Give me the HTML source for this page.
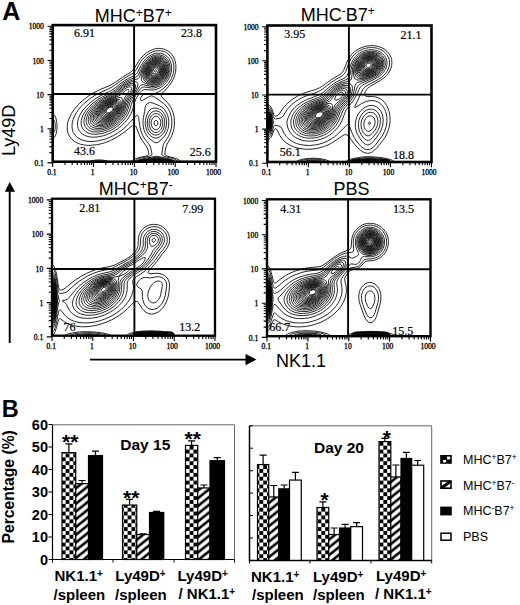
<!DOCTYPE html>
<html><head><meta charset="utf-8"><title>Figure</title>
<style>
html,body{margin:0;padding:0;background:#fff;}
body{width:520px;height:605px;overflow:hidden;}
svg{display:block;font-family:"Liberation Sans",sans-serif;}
.tk{font-family:"Liberation Serif",serif;font-size:7.6px;fill:#000;stroke:#000;stroke-width:0.3px;}
.qn{font-family:"Liberation Serif",serif;font-size:12px;fill:#000;stroke:#000;stroke-width:0.2px;}
.tt{font-size:18px;fill:#000;}
.yl{font-size:14.5px;font-weight:bold;fill:#000;}
.xl{font-size:15px;font-weight:bold;fill:#000;}
.lg{font-size:12.5px;fill:#000;}
.big{font-size:23px;font-weight:bold;fill:#000;}
.day{font-size:15.5px;font-weight:bold;fill:#000;}
.st{font-size:21px;font-weight:bold;fill:#000;}
</style></head><body>
<svg width="520" height="605" viewBox="0 0 520 605">
<defs>
<pattern id="chk" width="7.75" height="7.75" patternUnits="userSpaceOnUse" patternTransform="translate(3.6,4)">
<rect width="7.75" height="7.75" fill="#fff"/><rect width="3.875" height="3.875" fill="#000"/><rect x="3.875" y="3.875" width="3.875" height="3.875" fill="#000"/>
</pattern>
<pattern id="hat" width="9.6" height="7.75" patternUnits="userSpaceOnUse" patternTransform="translate(-0.86,0)">
<rect width="9.6" height="7.75" fill="#fff"/><path d="M-9.6 15.5 L19.2 -7.75 M-9.6 7.75 L9.6 -7.75 M0 15.5 L19.2 0" stroke="#000" stroke-width="2.5"/>
</pattern>
</defs>
<rect width="520" height="605" fill="#fff"/>
<text class="big" x="2.2" y="19.6" style="font-size:25px">A</text>
<text class="big" x="1.8" y="417" style="font-size:23.5px">B</text>
<text class="tt" x="133.2" y="22" text-anchor="middle">MHC<tspan dy="-5.5" font-size="12">+</tspan><tspan dy="5.5">B7</tspan><tspan dy="-5.5" font-size="12">+</tspan></text>
<text class="tt" x="337.8" y="20.5" text-anchor="middle">MHC<tspan dy="-5.5" font-size="12">-</tspan><tspan dy="5.5">B7</tspan><tspan dy="-5.5" font-size="12">+</tspan></text>
<text class="tt" x="135.7" y="194.7" text-anchor="middle">MHC<tspan dy="-5.5" font-size="12">+</tspan><tspan dy="5.5">B7</tspan><tspan dy="-5.5" font-size="12">-</tspan></text>
<text class="tt" x="351.5" y="195.2" text-anchor="middle">PBS</text>
<text class="tt" x="276" y="366.5">NK1.1</text>
<text class="tt" style="font-size:18px" transform="translate(15.3,156) rotate(-90)">Ly49D</text>
<!-- arrows -->
<path d="M9.7 343 V190" stroke="#000" stroke-width="1.9"/><path d="M9.7 182 L15 191.8 H4.8 Z" fill="#000"/>
<path d="M90 359.6 H248" stroke="#000" stroke-width="1.8"/><path d="M256.5 359.6 L245.5 354 V365.2 Z" fill="#000"/>
<path d="M180.2 161.7l-7.5 0-19 0-15.5 0-6.7 0 .3-.6 .4-.5 2-1.4 4-1.4 7.6-1.7 1.5-.5 .9-.5 .4-.5 .3-1-.7-3.1-1.3-3.4-4.6-6.5-1.5-2.5-1.4-3-3.2-8.2-1-1.2-1-.4-1.5 .4-1.5 .9-8.5 6.8-6 3.9-6 3.1-6.5 2.5-3.5 1-4 .8-6.5 .7-3.5-.1-3-.4-3-.6-2.5-.9-3.5-1.8-2.6-2-2.4-2.9-1.5-3.1-.9-3.5-.1-3.5 .5-4 1.3-4 2.4-5 3.1-4.5 3.8-4.5 4.4-4.1 4.5-3.6 5.5-3.6 6.5-3.4 9.1-3.8 3.9-1.9 3.3-2.1 7.7-5.3 8-5 1.5-1.3 1.5-1.7 4.2-7.2 2.6-3.5 2.7-2.9 3-2.5 4-2.4 2.5-.9 2.5-.7 2.5-.3 2.5 .1 2.5 .4 2 .6 2.5 1.3 2 1.4 1.8 1.9 1.5 2 1.5 3 .8 2.5 .5 3 .1 3-.2 3.5-.8 3.5-.9 3-1.7 3.5-2.9 4.5-2.2 2.5-4.9 5-.7 1-.4 1 .1 1 .9 1.5 5.5 5.3 1.7 2.2 1.6 2.5 1.3 3 1 3 .7 3 .4 3.5-.1 5.5-.4 3-.6 3-1.9 5-4.2 7.4-.9 2.1-1 4-.4 3 0 1 .5 1 1.8 1 7 1.8 4 1.5 1.1 .7 .9 1 .3 .6-.3 0 M53.7 137.7l-1 .1 0-5.7 0-15 0-2.7 .5 0 1 .5 .5 .6 1.2 2.6 .8 3.5 .3 4-.1 4-.7 4-1 2.5-.7 1-.8 .6 M109.2 161.7l-4 0-6.5 0-6.5 0-3.6 0 1.6-.5 2.5-.7 3.5-.5 3-.1 3.5 .2 2.5 .4 2.5 .7 .9 .4 .6 .1 M177.2 161.7l-7 0-15 0-14 0-6.7 0 .3-.6 .5-.5 1.9-1.2 3.5-1.2 9.2-2.1 1.7-1 .4-1-1.1-5.5-1.1-3-1.3-2-4.3-5.5-1.4-2.5-1.1-2.5-.9-2.5-.8-3.5-1.4-9.5-.5-1.5-.4-.4-.5-.2-1 .3-1 .8-6.3 7-3.7 3.6-3.5 3-3.5 2.5-4.5 2.7-5 2.4-4.5 1.6-5 1.3-5 .7-5 .1-4-.6-4-1.2-3.5-2-2.5-2.4-1.8-2.7-.6-1.5-.5-2-.3-3 .3-3.5 .8-3 1.4-3.5 1.9-3.5 2.1-3 2.5-3 3.2-3.2 5-4.2 5-3.4 5.5-3 9-4.1 3-1.5 3-2 9-6.5 9.4-5.6 1.6-1.4 1-1.2 4.8-8.4 1.8-2.5 2.2-2.5 2.7-2.3 3-1.9 2.5-1.1 3-.9 2-.2 2.5 0 2 .3 2 .6 1.5 .7 2 1.3 1.5 1.3 1.4 1.7 1.2 2 .9 2 .7 2.5 .4 2 0 4.5-.3 2.5-.6 2.5-1.5 4-2.4 4-2.8 3.4-3 2.7-2.5 1.8-2.5 1.5-5.5 2.5-1.5 .2-3-.8-2-.2-2.2 .4-1.3 .9-1 1.1-1 2-.2 1.5 .2 .7 .4 .3 1.1-.1 7.5-4.1 1.5-.5 1 .1 2.5 1.2 9 6.3 2.7 2.6 2.1 3 1.8 4 1.2 4.5 .4 4.5-.3 5-1 4-1.3 3.5-1.6 3-3.3 5-1 2-.6 2.5-1 7 .4 1 1.4 1 3.2 1 5.4 1.3 3 1.2 1 .6 1 .9 .3 .6-.3 0 M53.7 132.7l-.5 .2-.5 0 0-12.3 0-1.3 .5 0 .5 .2 .4 .6 .6 1.4 .4 2.1 .2 2-.1 2.5-.3 2-.5 1.5-.7 1.1 M106.2 161.7l-7.5 0-7.2 0 1.2-.2 2-.5 4.5-.3 4.5 .4 1.9 .5 .9 .1-.3 0 M95.7 137.1l-3 .1-3-.3-2.5-.6-2.5-.9-2.2-1.3-1.7-1.5-1.6-2-1-2-.5-2-.2-2.5 .2-2.5 .7-3 1-2.5 1.6-3 2-3 2.1-2.5 4.6-4.5 5.5-4.2 5-3 9-4.3 2.5-1.4 3-2 6-4.8 3.5-2.5 3.5-2.1 6.5-3.2 1.5-1 1-1 1-1.3 3.3-6.7 2.5-4 2.7-3.1 3.5-2.7 2-1.1 2.5-.9 2-.5 2.5-.1 2 .1 2 .6 2 .9 2 1.4 2.2 2.4 1.6 3 .9 3.5 .2 3.5-.5 4-1.1 3.5-2 4-2.3 3-2 2-2 1.6-2.5 1.5-2.5 1-2.5 .6-2 .2-7.5-.5-1.5 .4-1.5 .9-1.5 1.5-1.5 1.9-2.9 4.9-1.2 3-2.1 8-1.9 4.5-2.9 4.5-3.9 4.5-3.1 2.8-3 2.4-3.5 2.2-3.5 1.9-3.5 1.6-4 1.3-4 .9-3.5 .4 M157.2 142.7l-1.5 .1-2-.9-3-2.2-2.5-2.3-1.7-2.3-1.4-2.5-1-2.5-.7-3-.4-3.5 .1-3.5 .4-3 1.1-5.5 .6-4.5 .5-1.5 1.1-1.5 1.4-1 1.5-.5 1.5 0 2 .6 6.5 2.6 3 2 2 2 1.5 2.3 1.4 3 .8 3 .4 3.5-.1 3.5-.6 3.5-1.3 3.5-1.6 3-2.5 3.1-3.5 3.3-2 1.2 M173.7 161.7l-6.5 0-11.5 0-11.5 0-6.1 0 .3-.6 .5-.5 1.3-.7 2-.8 3-.8 8-1.5 3.5-.5 3.5 .5 10 2.4 2.9 1.4 .8 1 0 .1-.2 0 M101.2 161.7l-4.7 0 2.7 0 2.3 0-.3 0 M98.2 134.1l-3 .2-2.5-.2-2.5-.4-2.5-.9-2-1.1-1.5-1.2-1.2-1.4-1.1-2-.6-2-.2-2 .2-2.5 .6-2.5 .9-2.5 1.4-2.5 1.6-2.5 2-2.5 4.6-4.5 5.3-4 4-2.3 7.6-3.7 3.4-1.9 3-2.2 6.5-5.4 4-2.8 3.5-1.7 5.5-2.1 2-1.2 1-1.1 .7-1.1 3-7 2.3-4 3-3.5 3-2.4 2-1 2-.8 2-.4 2-.2 2 .2 2 .5 2 1 1.5 1.1 2 2.2 1.4 2.8 .8 3 .2 3.5-.5 3.5-1.2 3.5-1.5 3-2.2 2.9-2 1.9-2 1.5-2 1.1-2.5 .9-2 .5-2.5 .1-7.5-1-1.5 .2-1.5 .9-1 .9-1.5 2-5 7.6-1.6 3.5-2.2 7.5-1.4 3.5-2.7 4.5-3.1 3.8-2.5 2.4-3 2.5-3 2.1-3 1.7-3 1.4-3.5 1.3-3.5 .9-3 .4 M158.2 137.6l-2 .5-2-.3-2-.8-1.9-1.4-1.6-1.8-1.4-2.2-1-2.5-.7-2.5-.3-3 .1-3 .6-3 1-3 1.3-2.5 1.4-2 1.5-1.3 2-.6 2-.2 2.5 .4 2 .8 2 1.3 1.5 1.6 1.5 2.3 1.1 2.7 .6 2.5 .2 2.5-.2 3-.6 3-.9 2.5-1.2 2.2-1.5 1.9-2 1.8-2 1.1 M171.2 161.7l-6 0-9.5 0-9.5 0-5.7 0 .1-.1 .3-.5 .6-.5 3.2-1.3 7-1.4 5-.5 4.5 .5 6.5 1.5 2.8 1.2 1 1 0 .1-.3 0 M101.2 131.6l-3 .4-2.5 0-2.5-.2-2-.5-2-.9-2-1.3-1.4-1.5-.9-1.5-.7-2-.3-2 .1-2 .6-2.5 .9-2.5 1.4-2.5 1.7-2.5 1.6-2 3.5-3.5 4-3.1 5-3.1 7.7-3.8 3.3-1.9 2.7-2.1 5.8-5 3.5-2.5 2-1.2 2.5-1 2.5-.8 4-.9 1.5-.7 .9-.9 .6-1.1 2.8-7.9 2-4 2.7-3.4 3-2.6 1.5-.9 2-.8 2-.6 2-.2 2 .1 2 .6 1.5 .6 1.6 1.2 1.8 2 1.4 2.5 .8 3 .1 3-.4 3-.9 3-1.5 3-1.9 2.6-2 2-2 1.5-2.5 1.3-2.5 .8-2 .2-2.5-.1-7.5-1.7-1.5 .1-1 .6-1.5 1.8-7.8 12.4-1.4 3-2 6.5-1.1 3-1.9 3.5-2.6 3.5-2.2 2.4-2.4 2.1-2.6 2-2.5 1.6-3 1.6-2.5 1.1-3 1-3 .7 M156.2 135.1l-1.5-.1-1.5-.5-1.5-.9-1.5-1.5-1.3-2-.9-2-.5-2-.2-2.5 .1-2.5 .5-2.5 .7-2 1.1-2 1.2-1.5 1.3-1 1.5-.8 2-.4 2 .3 1.5 .6 1.5 1 1.2 1.3 1.3 2 .8 2 .5 2 .2 2.5-.2 2.5-.4 2-.7 2-1.1 2-1.6 1.9-1.5 1.1-1.5 .7-1.5 .3 M169.2 161.7l-13.5 0-13.3 0 .1-.1 .4-.5 .7-.5 2.6-1 6-1.2 4.5-.3 4.5 .4 5 1.2 2 .8 .9 .6 .4 .5 .1 .1-.4 0 M154.7 85.2l-3 .1-3-.6-3.5-1.4-2.7-1.7-.8-1-.3-1 0-2 .4-2.5 .9-4 1.3-3.5 2-3.5 2.2-2.6 2.5-2 3-1.6 3-.7 3 .2 2 .6 2 1.1 1.5 1.4 1.1 1.6 .9 2 .6 2.5 .1 2.5-.2 2.5-.7 2.5-1.1 2.5-1.2 2-1.7 2-1.8 1.6-2 1.4-2 .9-2.5 .7 M98.7 130.1l-4-.2-2-.5-1.5-.6-1.5-.9-1.4-1.3-.8-1-.7-1.5-.4-1.5-.2-2 .6-3.5 .7-2 1-2 2.8-4 3.3-3.5 4.1-3.3 4.5-2.9 8.5-4.2 2.7-1.6 2.6-2 5.7-5.1 3.5-2.4 3-1.5 3-.9 3 0 1 .2 1 .6 .5 .6 .2 1.5-.3 1.5-.8 2-1.8 3.5-5.5 8.5-1.3 3-1.6 5.5-1.2 3-1.5 3-2.2 3.1-2.2 2.4-2.3 2.2-3 2.2-3 1.9-3 1.4-3 1.1-3.5 .9-3 .3 M157.7 132.1l-1.5 .4-1.5-.2-1.5-.6-1-.7-1-1.1-1-1.7-.6-1.6-.4-2-.1-2 .3-2 .6-2 .7-1.5 1-1.4 1-1 1-.6 1.5-.5 1.5 0 1 .2 1.5 .8 1 .9 1 1.2 .7 1.4 .8 3 0 3.5-.4 2-.6 1.4-.9 1.6-.9 1-1.2 1-1 .5 M167.7 161.7l-11.5 0-12 0 .1-.1 .4-.5 1-.6 2-.7 4.5-.9 4.5-.2 4 .3 4 .9 1.9 .7 .7 .5 .5 .5 .1 .1-.2 0 M154.7 84.2l-2.5 .1-2.5-.5-2.9-1.2-2-1.5-1.1-1.5-.6-1.5-.2-2 .3-3 .9-3.5 1.3-3 1.6-2.5 2.2-2.4 2.5-1.8 2.5-1.2 2.5-.5 2.5 .1 2 .5 1.5 .8 1.5 1.3 1.3 1.7 .9 2 .5 2 .2 2-.2 2.5-.5 2-.9 2.5-1.2 2-1.6 2.1-2 1.8-2 1.3-2 .9-2 .5 M102.2 128.2l-2.5 .3-2 0-3.5-.6-1.5-.6-1.5-1-1-.9-.9-1.3-.7-1.5-.3-1.5 0-1.5 .2-2 .6-2 .9-2 2.2-3.5 3.5-3.9 4-3.3 5-3.1 7.5-3.7 3-1.7 2.5-1.9 5.5-5 3-2.2 2.5-1.2 2.5-.7 2 0 1.5 .7 .7 1 .2 1-.2 1.5-.5 1.5-1.5 3-4.1 6-1.2 2-1.1 2.5-2.5 8-1.5 3-1.6 2.5-1.7 2-2 2.1-2.5 2.1-2.5 1.7-2.5 1.4-3 1.4-2.5 .8-2.5 .6 M156.2 129.7l-1-.1-1-.4-1.5-1.2-.6-.9-.6-1.5-.4-2.5 .4-2.5 .6-1.5 .6-.9 1.5-1.4 1-.4 1-.1 1.5 .4 1 .7 .6 .7 1.1 2 .4 2.5-.3 2.5-.8 2.1-1.5 1.7-1 .5-1 .3 M166.2 161.7l-10 0-10.4 0 .1-.1 .5-.5 2.4-1 3.9-.7 3.5-.3 3.5 .2 3.8 .8 2.2 1 .5 .5 0 .1 M155.2 83.1l-2.5 .2-2.5-.4-2-.8-2-1.5-1.2-1.5-.7-1.5-.3-2 .1-2.5 .7-3 1-2.5 1.4-2.5 2-2.4 2-1.6 2.5-1.3 2.5-.7 2.5 0 2 .5 1.5 .8 1.4 1.2 1.2 1.5 .7 1.5 .6 2 .2 2-.2 2.5-.5 2-.7 2-1.2 2-1.5 2-1.5 1.4-2 1.3-2 .9-1.5 .4 M103.2 126.6l-4 .4-3.5-.5-1.5-.6-1.4-.8-1-1-.8-1-.4-1-.4-1.5-.1-1.5 .1-1.5 1.1-3.5 2-3.5 1.6-2 1.8-2 4-3.3 4.5-2.8 8.1-3.9 2.9-1.6 2.4-1.9 4.9-4.5 2.2-1.7 2-1.1 2-.7 1.5-.1 1.5 .4 .6 .7 .3 1-.1 1.5-.5 1.5-1.3 2.5-3.5 5-1.5 2.5-.8 2-1.5 5.5-.9 2.5-1.2 2.5-1.6 2.5-1.5 2-1.9 2-4.1 3.3-2.5 1.5-2.5 1.2-2.5 .9-2.5 .6 M156.2 125.6l-1-.2-.5-.4-.5-.9-.1-1 .1-1 .5-1 .5-.5 1-.2 .5 .1 .6 .6 .5 1 .1 1-.4 1.5-.4 .5-.9 .5 M164.7 161.7l-8.5 0-8.8 0 .1-.1 .6-.5 1.6-.6 3-.7 3.5-.2 3 .1 3 .6 1.9 .8 .5 .5 .1 .1 M155.7 82.2l-2 .3-2-.2-2-.6-2-1.1-1.4-1.5-.8-1.5-.5-2 0-2.5 .6-3 1-2.5 1.5-2.5 1.6-1.9 2-1.6 2-1 2.5-.7 2 0 1.5 .3 1.5 .6 1.5 1.1 1.1 1.2 .8 1.5 .7 2 .2 2 0 2-.5 2-.7 2-.8 1.5-1.3 1.9-1.5 1.5-1.5 1.1-1.5 .9-2 .7 M101.2 125.6l-3-.1-2.8-.9-2-1.5-1.3-2-.4-2.5 .4-3 1.3-3 2-3 1.7-2 2.1-2 4.5-3.4 3.5-1.9 7.2-3.2 2.8-1.5 2.5-1.9 4.5-4.2 2.5-1.8 1.5-.6 1-.2 1 0 .7 .2 .5 .5 .3 1-.5 2-1 2-3.3 4.5-1.2 2.1-.9 2.4-1.3 5.5-.8 2.5-1.5 3-1.6 2.5-1.9 2.2-2 1.9-2 1.6-2.5 1.6-2.5 1.3-2.5 .9-2.5 .7-2.5 .3 M162.7 161.7l-13.6 0 .1-.1 .7-.5 1.4-.5 2.4-.4 2.5-.2 2.5 .1 2.4 .5 1.3 .5 .6 .5 .1 .1-.4 0 M154.2 81.6l-2 0-2-.6-1.5-.9-1.5-1.4-.9-1.6-.4-1.5-.2-2 .4-2.5 .7-2.5 1.1-2 1.4-2 1.9-1.8 2-1.2 2-.7 2-.3 2 .3 1.5 .5 1.5 1.1 1 1.1 .8 1.5 .6 1.5 .2 2 0 1.5-.3 2-.7 2-.8 1.5-1 1.5-1.3 1.5-1.5 1.2-1.5 .9-1.5 .5-2 .4 M103.7 124.1l-3 .3-3-.5-2-1-.9-.8-.7-1-.5-1-.3-1.5 .1-2.5 1-3 1.8-3 1.6-2 2-2 4.4-3.3 4.5-2.5 9.5-3.9 2.7-1.8 4.8-4.3 1.5-.8 1-.1 .5 .2 .3 1-.3 1.1-1 1.7-2.3 3.2-1.1 2-.6 2-.8 5-.8 3-1.3 3-1.6 2.5-3 3.5-4 3.1-4 2.1-2.5 .9-2 .4 M161.2 161.7l-10.3 0 .1-.1 .9-.5 2.3-.5 2-.1 2 .1 2.2 .5 .8 .5 .2 .1-.2 0 M155.7 80.6l-2 .3-2-.3-1.5-.6-1.5-1-1.1-1.4-.7-1.5-.4-2 .1-2 .6-2.5 .8-2 1.3-2 1.4-1.5 1.5-1.2 2-1 2-.5 2 0 1.5 .4 1 .5 1 .8 1.3 1.5 .7 1.5 .4 1.5 0 3-.4 2-.6 1.5-.8 1.5-1.1 1.5-2.5 2.2-1.5 .8-1.5 .5 M102.7 123.1l-2.5-.1-2.5-.7-1.6-1.2-.7-1-.5-1-.2-2 .4-2.5 1-2.5 1.6-2.5 2.2-2.5 2.2-2 2.6-1.9 3-1.7 4-1.7 6-1.8 3-.6 1 .4 .5 1.3 .1 2-.2 3-.4 2.5-.5 2-.8 2-2.2 3.5-3 3.3-2 1.6-2 1.3-2 1-2.5 1-2 .6-2 .2 M158.7 161.7l-5.5 0 .3-.1 .2-.1 2.5-.4 2.7 .5 .2 .1-.4 0 M156.2 79.7l-2 .4-1.5-.1-1.5-.4-1.6-1-1-1-.9-1.6-.4-1.9 0-2 .4-2 .8-2 1.2-2 1.4-1.5 1.6-1.2 1.5-.8 2-.5 1.5 0 1.5 .3 1 .5 1 .7 .9 1 .6 1 .5 1.5 .3 1.5 0 1.5-.7 3-.6 1.5-1 1.5-1 1.1-1.5 1.3-2.5 1.2 M105.7 121.6l-3 .4-2.5-.3-2-.9-1.3-1.2-.8-2 0-2 .6-2.5 1.3-2.5 2-2.5 2-2 2.7-2.1 3-1.8 3.5-1.5 4-1.1 3-.3 1.5 .4 .8 .9 .4 1 .2 1.5 0 2-.3 2-.6 2-1.8 3.5-2.4 3-3.3 2.8-3.5 2-3.5 1.2 M155.7 79.1l-2 .2-1.5-.2-1.5-.7-1-.8-.8-1-.7-1.5-.2-1.5 0-2 .5-2 .7-1.5 1-1.6 1.3-1.4 1.7-1.3 1.5-.6 1.5-.4 1.5 0 2.2 .8 .8 .6 1 1.1 1 2.3 .2 1.5-.1 1.5-.8 3-1.6 2.5-2.2 1.9-2.5 1.1 M105.7 120.6l-2.5 .3-2-.2-2-.9-1.2-1.2-.4-1-.3-1 .1-2 .6-2 1.4-2.5 2-2.5 2.2-2 2.6-1.9 2.5-1.3 3-1.2 3-.7 2.5 0 1.5 .5 .6 .6 .5 1 .4 1.5 0 1.5-.2 1.5-.6 2-1.5 3-2.2 2.7-3 2.7-3.5 2-3.5 1.1 M156.2 78.2l-1.5 .4-1.5-.1-1.4-.4-1.1-.7-1-1.1-.7-1.2-.3-1.5 0-1.5 .3-2 .6-1.5 .9-1.5 1.2-1.4 1-.8 1.5-.8 1.5-.5 1.5-.1 2 .6 1 .7 .8 .8 1 2 .2 2.5-.5 2.5-1.3 2.5-2 2-2.2 1.1 M105.7 119.7l-2 .1-2-.3-1.5-.7-1.1-1.2-.5-1.5 0-2 .6-2 1.1-2 1.5-2 2.1-2 2.3-1.7 2.5-1.4 3-1.1 2.5-.5 2 0 1.5 .5 .8 .7 .5 1 .2 1 .1 1.5-.7 3-1.5 3-2.1 2.5-2.8 2.3-3.5 1.9-3 .9 M155.7 77.6l-1.5 .2-1-.1-1-.3-1.2-.8-.8-1-.5-1-.3-1.5 0-1.5 .3-1.5 .6-1.5 .9-1.4 1-1 1-.8 1.5-.8 1.5-.3 1 0 1 .2 1 .5 1.5 1.5 .8 2.1 0 2-.7 2.5-1.2 2-1.9 1.6-2 .9 M106.2 118.7l-2 .1-2-.4-1.3-.8-.8-1-.4-1.5 0-1.5 .7-2 1.1-2 1.7-2 1.6-1.5 2.2-1.5 2.2-1.2 2.5-.8 2.5-.4 1.5 .1 1.5 .6 .6 .7 .4 .8 .2 2.2-.5 2.5-1.6 3-2.1 2.4-2.5 1.9-2.5 1.4-3 .9 M156.2 76.7l-1.5 .3-1-.1-1-.2-.9-.6-1.2-1.5-.4-1-.1-1.5 .5-2.5 .6-1.2 1-1.3 2-1.5 1.5-.5 1-.1 1 .2 .9 .4 1.2 1 .8 1.5 .3 2-.4 2-1 2-1.4 1.5-1.9 1.1 M106.7 117.7l-2 .1-1.5-.3-1-.5-1-1.1-.4-1.3 .1-1.5 .4-1.5 1.1-2 1.2-1.5 1.6-1.5 2-1.5 2-1 2-.8 2-.3 1.5 0 1.5 .5 1 1.1 .4 2-.5 2.5-1.3 2.5-1.6 2-2.5 2-2.5 1.4-2.5 .7 M154.7 76.1l-1-.1-1-.4-1.1-1-.5-1-.2-1 .1-2 .9-2 1.3-1.5 2-1.1 1-.1 1 .1 1.5 .7 1 1.3 .4 1.6-.2 2-.9 2-1.3 1.4-1.5 .8-1.5 .3 M107.7 116.6l-1.5 .2-1.5 0-1-.4-1.1-.8-.6-1-.1-1.5 .3-1.5 .7-1.5 1.1-1.5 1.5-1.5 1.7-1.3 1.5-.9 2-.8 1.5-.3 1.5-.1 1.5 .4 1.1 1 .5 1.5-.3 2-.8 2-1.5 2-2 1.8-2 1.3-2.5 .9 M155.2 75.2l-1.5-.2-1.2-.9-.7-1.5 0-1.5 .7-2 1.2-1.3 1.5-.8 1.5-.2 1 .4 1 1 .5 1.4 0 1.5-.6 1.5-.9 1.3-1 .7-1.5 .6 M108.2 115.6l-1.5 .3-1.5-.2-1-.4-.7-.7-.5-1 0-1 .2-1 .6-1.5 1.1-1.5 1.3-1.3 1.5-1.1 1.5-.8 1.5-.6 1.5-.3 1.5 .1 1 .4 1 1.1 .2 1-.2 1.5-.8 2-1.2 1.6-1.5 1.4-2 1.3-2 .7 M156.2 73.7l-1.5 .3-1-.4-.7-1-.2-1 .3-1.5 .6-1 1-.8 1-.3 1 0 .9 .6 .3 .5 .3 1 0 1-.4 1-.6 .8-1 .8 M108.7 114.6l-1.5 .3-1-.1-1-.4-.5-.4-.5-.9-.1-1 .7-2 .9-1.3 1-1 2.5-1.7 2.5-.7 1-.1 1 .3 1 1 .3 1-.1 1-.6 1.5-1 1.5-1.6 1.5-1.5 .9-1.5 .6 M155.2 72.1l-.6-.5 0-1 .6-.6 .5-.2 .5 .2 .3 .6-.2 1-.6 .4-.5 .1 M108.7 113.7l-1 .1-1-.1-1-.7-.4-1.4 .3-1 .5-1 1.6-1.7 2-1.2 2-.5 1.4 .4 .6 .6 .2 .9-.1 1-.6 1.3-1 1.2-1 .9-1 .6-1.5 .6 M109.2 112.7l-1.5 .2-1-.5-.4-.8 .3-1.5 1.2-1.5 1.4-1 1.5-.5 1.5 .1 .5 .4 .3 .5 0 1-.4 1-1.4 1.6-2 1" fill="none" stroke="#000" stroke-width="0.85" stroke-linejoin="round"/>
<path d="M136.0 161.7 Q137.5 158.9 142.0 158.9 L169.0 158.9 Q173.5 158.9 175.0 161.7 Z" fill="#0a0a0a"/>
<rect x="52.7" y="25.1" width="163.3" height="136.6" fill="none" stroke="#000" stroke-width="2.6"/>
<path d="M134.1 25.1 V161.7 M52.7 94.0 H216.0" stroke="#000" stroke-width="1.9" fill="none"/>
<path d="M52.7 161.7 v5.2 M52.7 162.9 h-5.2 M65.0 161.7 v3.3 M52.7 152.6 h-3.3 M72.2 161.7 v3.3 M52.7 146.6 h-3.3 M77.3 161.7 v3.3 M52.7 142.3 h-3.3 M81.2 161.7 v3.3 M52.7 139.0 h-3.3 M84.5 161.7 v3.3 M52.7 136.3 h-3.3 M87.2 161.7 v3.3 M52.7 134.0 h-3.3 M89.6 161.7 v3.3 M52.7 132.1 h-3.3 M91.7 161.7 v3.3 M52.7 130.3 h-3.3 M93.5 161.7 v5.2 M52.7 128.7 h-5.2 M105.8 161.7 v3.3 M52.7 118.5 h-3.3 M113.0 161.7 v3.3 M52.7 112.5 h-3.3 M118.1 161.7 v3.3 M52.7 108.2 h-3.3 M122.1 161.7 v3.3 M52.7 104.9 h-3.3 M125.3 161.7 v3.3 M52.7 102.2 h-3.3 M128.0 161.7 v3.3 M52.7 99.9 h-3.3 M130.4 161.7 v3.3 M52.7 97.9 h-3.3 M132.5 161.7 v3.3 M52.7 96.2 h-3.3 M134.4 161.7 v5.2 M52.7 94.6 h-5.2 M146.6 161.7 v3.3 M52.7 84.3 h-3.3 M153.8 161.7 v3.3 M52.7 78.3 h-3.3 M158.9 161.7 v3.3 M52.7 74.0 h-3.3 M162.9 161.7 v3.3 M52.7 70.7 h-3.3 M166.1 161.7 v3.3 M52.7 68.0 h-3.3 M168.9 161.7 v3.3 M52.7 65.7 h-3.3 M171.2 161.7 v3.3 M52.7 63.8 h-3.3 M173.3 161.7 v3.3 M52.7 62.0 h-3.3 M175.2 161.7 v5.2 M52.7 60.5 h-5.2 M187.5 161.7 v3.3 M52.7 50.2 h-3.3 M194.7 161.7 v3.3 M52.7 44.2 h-3.3 M199.8 161.7 v3.3 M52.7 39.9 h-3.3 M203.7 161.7 v3.3 M52.7 36.6 h-3.3 M206.9 161.7 v3.3 M52.7 33.9 h-3.3 M209.7 161.7 v3.3 M52.7 31.6 h-3.3 M212.0 161.7 v3.3 M52.7 29.6 h-3.3 M214.1 161.7 v3.3 M52.7 27.9 h-3.3 M216.0 161.7 v5.2 M52.7 26.3 h-5.2" stroke="#000" stroke-width="1.1" fill="none"/>
<text class="tk" x="51.9" y="174.6" text-anchor="middle">0.1</text>
<text class="tk" x="43.9" y="166.0" text-anchor="end">0.1</text>
<text class="tk" x="92.7" y="174.6" text-anchor="middle">1</text>
<text class="tk" x="43.9" y="131.8" text-anchor="end">1</text>
<text class="tk" x="133.5" y="174.6" text-anchor="middle">10</text>
<text class="tk" x="43.9" y="97.7" text-anchor="end">10</text>
<text class="tk" x="173.2" y="174.6" text-anchor="middle">100</text>
<text class="tk" x="43.9" y="63.5" text-anchor="end">100</text>
<text class="tk" x="213.5" y="174.6" text-anchor="middle">1000</text>
<text class="tk" x="43.9" y="29.4" text-anchor="end">1000</text>
<path d="M369.4 153.1l-2 .2-2.5-.5-2-.9-2.5-1.7-3-2.7-2.7-3-6.3-8.5-1.3-1-1.2-.4-1.5 .2-1.5 .7-9 6.2-3.5 2-3.5 1.7-3.5 1.3-4 1.2-4 .8-4.5 .5-6 0-6-.8-5.5-1.6-4.5-2.2-3.7-2.6-3-3-2.4-3.5-2.6-5.5-.8-.9-1-.5-.5 .2-.5 .5-2.2 5.7-1.4 2.5-.9 1-1 .8-1.5 .4 0-4.7 0-13 0-12.5 0-5 1 .2 1 .6 1.5 1.8 1.3 2.4 1.7 5.2 .5 .9 .5 .5 .5 .1 1.5-.3 1.4-.9 1-1 3.6-5.5 3.4-4 3.6-3.3 4-2.9 4-2.4 4.5-2.1 4.5-1.7 8.7-2.6 3.8-1.6 3.1-1.9 8.9-6.4 7.7-4.6 1.8-1.3 1.5-1.4 1.2-1.8 3.6-9 2.5-4.5 1.5-2 1.7-1.8 2-1.8 2-1.4 3-1.7 3-1.2 3-.9 3.5-.5 3.5-.1 3 .3 3 .7 3 1.2 3 1.7 2.3 2 2.1 2.5 1.4 2.5 .9 3 .3 3-.2 3-.8 3-1.2 2.5-1.6 2.5-1.6 2-2.1 2-4.5 3.2-9.2 5.3-3.2 2.5-1.2 1.5-.9 1.5-.5 1.5-.2 1.5 .2 .9 .5 .6 1 .4 7 .2 2 .3 2.5 .7 2 1 1.5 .9 3 2.7 1.5 2 1.3 2.3 1.1 2.5 .8 2.5 .6 3 .3 3 .1 3-.3 3-.7 4-1.5 4.5-1.8 4-2.2 3.5-3.9 5-4.4 5-2.9 2.3-1.5 .8-1.5 .5 M393.9 162l-8 0-20 0-14 0-6.3 0 .8-1 1.5-.9 4.5-1.4 8.5-1.5 4.5-.5 3-.1 10 .7 4 .5 5 .9 3.5 1 1.8 .8 1.2 .9 .5 .6-.5 0 M329.9 162l-6 0-12.5 0-10.5 0-5.3 0 .8-.6 1.5-.8 4-1.3 4.5-.7 6.5-.4 6.5 .4 4.5 .7 2 .5 2.5 1 1.9 1.2-.4 0 M369.4 149.5l-2.5 .2-2.5-.8-2.5-1.7-2.7-2.7-2.7-3.5-2.3-3.5-1.9-4-2.9-7.4-.5-.8-.5-.5-.5-.1-1 .3-1 .8-6 6.2-3 2.8-2.5 2-3 2.1-4 2.2-4 1.7-4 1.3-4 .8-6 .6-5.5-.3-5-1-2.5-.8-2.5-1.1-4-2.4-2-1.7-1.5-1.6-2.2-3.1-2.3-5-1-1.4-.9-.6-1.1-.5-3-.7-1 .1-.5 .3-.5 .6-.5 1.2-1.6 5.5-1.4 2.8-1.5 1.5-1.5 .5 0-4.8 0-11 0-11 0-4.7 1.5 .5 1 1 .8 1.2 1.3 3 1.4 4.9 1 1.7 1 .4 1-.1 3.5-.7 1.5-.6 .9-.6 .8-1 3.1-5 2.7-3.5 3-3.1 4-3.1 4-2.5 4-1.9 4-1.6 8.4-2.8 3.2-1.5 3.4-2.2 9-6.9 3.5-2.2 5.8-3.2 2.1-1.5 1.3-1.5 1.2-2 2.8-8 2.2-4.5 1.4-2 1.7-2 3.5-3 2-1.3 3-1.4 3-1 3-.6 3-.1 3 .1 3 .6 2.5 .9 3 1.6 2.1 1.7 2.2 2.5 1.4 2.5 .7 2.5 .3 3-.3 3-1 3-1.3 2.5-1.5 2-1.6 1.7-2 1.8-4 2.7-10 5.3-2.2 1.5-1.8 1.7-1.3 1.8-1.1 2-2.9 6.5-3.2 6.5-.7 2 .2 .6 .5-.1 6.3-4 2.2-1.1 2.5-1 4-.8 3.5 .1 2 .5 1.5 .6 2 1.1 1.5 1.2 1.5 1.6 1.3 1.8 1.1 2 .8 2 .7 2.5 .5 2.5 .1 5-.7 5-1.7 5-1.4 3-1.6 2.5-6.1 8-3 3-1.5 .9-1.5 .6 M390.9 162l-7.5 0-15.5 0-13 0-6.3 0 1-1 1.3-.7 2-.7 3-.7 7.5-1.1 6-.2 9 .5 6.5 1 2.5 .6 2 .8 1 .5 .9 1-.4 0 M327.4 162l-5 0-9.5 0-9 0-5.4 0 2.4-1.3 3.5-.9 4-.6 4.5-.1 4.5 .1 4.5 .7 3.5 1 2 1.1 M311.9 141l-3.5 .1-3.5-.3-3-.6-3-1-3-1.5-2.5-1.7-2-1.9-1.6-2.1-1.3-2.5-.9-2.5-.6-3-.1-2 .8-3 1.4-3.5 1.6-3 1.8-2.5 1.8-2 2.1-2 4.5-3.3 5.5-2.9 10.5-4 3.5-1.6 3.2-2.2 6.3-5.5 3.5-2.6 4-2.5 6.5-3.1 1.9-1.3 1.1-1.2 1-1.8 2.7-9 2-4.5 1.3-2 1.7-2 1.8-1.7 2-1.5 2.5-1.4 3-1.2 3.5-.8 3-.2 3 .3 3 .7 2.5 1.1 2.5 1.7 1.9 2 1.4 2 .9 2.5 .4 2-.1 2.5-.5 2.5-1 2.5-1.7 2.5-2.8 2.9-3 2.2-4 2.3-9.6 4.6-2.3 1.5-1.5 1.5-1.3 2-2.6 6-2 3.5-2 3-4.7 6-2 3-1.1 2.5-2.5 7-2.1 4-2.4 3.5-3.2 3.5-2.2 2-2.5 1.8-2.5 1.6-3 1.5-3.5 1.3-3 .9-3 .6-3 .3 M369.4 144.6l-2 .3-1-.2-1.5-.7-2.5-2.2-2.5-3.3-2.3-4-1.4-3.5-.8-3.5-.1-4 .5-3.5 1.2-3.5 1.6-3 2.3-2.9 2.5-2.3 3-1.8 2.5-.8 3-.3 2.5 .5 2 .8 2 1.5 2 2.3 1.4 2.5 .9 3 .4 3 0 3-.4 3-.8 3-1.2 3-1.4 2.5-2.4 3.5-3.6 4.5-1.9 1.9-2 1.2 M267.9 135.7l-.5 0 0-.2 0-6 0-15 0-6.2 1 .3 .6 .4 .9 1.1 .8 1.4 1.4 4.5 1.1 4.5 .1 1.5-.2 2-1.9 7.5-.8 1.7-.8 1.3-.7 .7-1 .5 M387.4 162l-6.5 0-12 0-10.5 0-6.2 0 .7-.7 1.5-.8 4-1.1 5.5-.7 6-.2 6.5 .3 6 .8 2.5 .7 1.5 .6 1 .6 .4 .5-.4 0 M323.9 162l-11 0-10.9 0 1.9-.8 2.5-.6 3-.4 3.5-.2 3.5 .1 3 .4 2.5 .6 2 .9 M313.9 138l-3.5 .2-3-.1-3-.5-3-.9-2.5-1.1-2.4-1.6-1.7-1.5-1.6-2-1.2-2-.8-2.5-.4-2.5 .1-2.5 .5-2.5 .9-2.5 1.3-2.5 1.8-2.5 3.5-3.7 4.5-3.3 5.5-2.8 9.5-3.7 3-1.5 3-2.1 6.5-6 4-3 3.5-2 7.5-3.1 2.1-1.3 1.2-1.5 .6-1.5 1.8-8.5 1-3 .9-2 1.2-2 1.7-2.2 2-2 2-1.4 2.5-1.4 2.5-.9 3-.7 2.5-.2 3 .2 2.5 .6 2.5 1.1 2 1.3 1.7 1.6 1.4 2 .8 2 .5 2.5-.1 2.5-.5 2-1.2 2.5-1.3 2-2.8 2.8-3.5 2.4-5 2.5-9.5 4-2 1.2-1.1 1.1-1.2 2-2.1 6-1.8 3.5-2.3 3.5-5.1 6-1.9 2.5-1.6 3-2.7 7-1.5 3-2.2 3.5-3.1 3.5-3.9 3.2-2.5 1.6-2.5 1.3-5 1.9-5 1 M369.4 140.1l-1 .3-1 0-1.5-.5-2-1.6-2-2.5-1.6-2.8-1.2-3-.6-3-.1-3.5 .5-3 .8-2.5 1.3-2.5 1.9-2.5 2-1.8 2-1.2 2-.7 2.5-.2 2 .3 1.5 .6 2 1.5 1.2 1.5 1.1 2 .7 2 .4 2.5 0 2.5-.3 2.5-.6 2.5-1 2.4-1.1 2.1-1.9 2.7-2.5 3-2 1.9-1.5 1 M268.4 134.1l-1 .3 0-3.9 0-14 0-6.9 .5 .1 1 .6 .9 1.2 .8 1.5 1.1 4 .7 4.5-.2 3-1.1 5-1.2 3-.8 1-.7 .6 M384.9 162l-15.5 0-9 0-5.8 0 .5-.5 1.3-.7 3.5-.9 5-.7 5-.2 5.5 .3 5 .7 3.6 1 1.4 1-.5 0 M320.9 162l-8 0-8.1 0 1.6-.6 2-.4 4.5-.3 5 .4 3.3 .9-.3 0 M311.4 136l-2.5-.1-2.5-.3-2.5-.6-2.5-1-2-1.1-1.7-1.4-1.4-1.5-1.4-2-.8-2-.4-2-.2-2 .3-2.5 .7-2.5 .9-2 1.2-2 1.6-2 3.5-3.5 4.7-3.2 4.5-2.2 9.3-3.6 2.8-1.5 2.9-2.3 6.5-6.2 2-1.6 2.5-1.6 4-1.9 8-2.4 1.8-1 .6-1 .4-1 .8-9 .7-3 1-2.5 1.3-2.5 1.4-2 1.9-2 2.1-1.6 2-1.2 2.5-1 2.5-.6 3-.3 2.5 .2 2.5 .6 2.5 1.1 1.8 1.3 1.5 1.5 1.2 2 .8 2 .2 2-.2 2.5-.6 2-1 2-1.5 2-1.5 1.5-1.7 1.4-4.5 2.6-6.5 2.7-8.5 2.7-1.8 1.1-.9 1.5-1.4 6.5-.6 2-1.2 2.5-2.7 4-5.7 6.5-1.9 2.5-1.4 2.5-2.3 6-1.4 3-1.5 2.5-1.9 2.5-1.8 2-2.5 2.2-2.5 1.7-3 1.7-3 1.2-3 .9-3 .6-3 .2 M268.4 133l-1 .4 0-3.4 0-12 0-7.3 .5 .1 1 .6 1.3 2.1 1.1 3.5 .6 4.5-.2 3.5-.9 4-1.1 2.5-1.3 1.5 M369.4 135.6l-1.5 .3-1.5-.4-1.5-1.1-1.5-1.8-1.1-2.1-.9-2.5-.3-2-.1-2.5 .5-2.5 .6-2 1.1-2 1.1-1.5 1.6-1.5 1.5-.9 1.7-.6 1.8-.2 1.5 .3 1.5 .6 1 .8 1.3 1.5 .8 1.5 .5 1.5 .3 2 0 2-.3 2-.6 2-1.7 3.5-2.8 3.4-1.5 1.3-1.5 .9 M382.9 162l-13.5 0-12.8 0 1.6-1 3.2-.8 4-.5 4.5-.2 5 .2 4 .5 3 .9 1.5 .9-.5 0 M318.4 162l-10.9 0 2.4-.5 3-.2 3 .2 2.5 .5 M359.4 80l-2.5-.1-1-.4-.7-.5-.7-1-.4-1-.6-3 .1-4 .8-4 1.4-3.5 1.9-3 2.2-2.2 2.5-1.7 3-1.4 3-.7 3-.2 3 .4 2.5 .9 2.5 1.7 1.5 1.5 1 1.7 .6 1.5 .3 2-.1 2-.5 2-1 2-1.3 1.8-1.6 1.7-1.9 1.5-2 1.2-3 1.5-3.5 1.4-3 .9-3 .7-2.5 .3 M313.9 134l-2.5 .2-2.5-.2-2.5-.4-2-.6-2-.9-1.8-1.1-1.7-1.5-1.2-1.5-.9-1.5-.7-2-.3-2 .1-2 .3-2 .7-2 1-2 1.3-2 1.7-2 2-1.9 2-1.6 2.5-1.6 5-2.5 8.9-3.4 3.1-1.7 2.5-2.1 6.2-6.2 2.3-1.8 2.5-1.6 3.5-1.5 4-.9 3.5-.1 1 .3 1 .5 .6 .6 .6 1 .4 2.5-.3 3-1.2 3.5-1.5 2.5-1.4 2-6.1 6.5-1.9 2.5-1.3 2.5-3 7.5-1.3 2.5-1.4 2-1.7 2.1-2 2-2 1.6-2.5 1.7-2.5 1.3-3 1.1-3 .8-2.5 .4 M268.4 132.1l-1 .4 0-3 0-11 0-6.9 1 .3 .5 .5 1.2 2.1 1 3.5 .4 3.5-.2 3-.7 3.5-.9 2.5-1.3 1.6 M369.4 131.2l-1 .1-1-.2-1-.5-1-1-.9-1.6-.5-1.5-.2-3 .7-3 1.4-2.4 1-1 1-.7 1.1-.4 1.4-.2 1 .2 1 .4 1.5 1.4 1 2.2 .2 2.5-.5 2.5-1.2 2.7-2 2.3-2 1.2 M381.4 162l-11.5 0-11.5 0 1.5-.8 2.5-.7 3.5-.5 4-.1 4 .1 3.6 .5 2.4 .6 1 .4 .7 .5-.2 0 M313.9 162l-2.2 0 2.5 0-.3 0 M361.4 78.5l-2.5-.2-1-.3-1-.6-1.2-1.4-.9-2.5-.1-3.5 .5-3.5 1.1-3 1.7-3 1.9-2.1 2.5-1.9 2.5-1.2 3-.9 3-.3 2.5 .3 2.5 .8 2.3 1.3 1.6 1.5 1 1.5 .6 1.5 .4 2-.1 2-.4 1.5-.9 2-1 1.5-1.3 1.5-1.8 1.5-1.9 1.3-2.5 1.3-5.5 2-2.5 .6-2.5 .3 M312.9 132.5l-4-.2-2-.4-2-.6-2-1.1-1.5-1.1-1.1-1.1-1.1-1.5-.8-1.5-.4-1.5-.2-1.5 0-2 .5-2 .7-2 2.1-3.5 1.8-2 2-1.8 2-1.5 2.5-1.6 5-2.3 8-3 3-1.6 2.5-2.1 5.8-6.1 2.2-1.8 2-1.2 3-1.4 3-.7 3 0 2 .8 1.2 1.3 .6 2-.2 2.5-1 3-1.1 2-1.9 2.5-5.9 6-1.9 2.5-1.3 2.5-2.9 7.5-1.4 2.5-1.3 2-1.9 2.2-2 1.8-2 1.5-2.5 1.5-2.5 1.2-2.5 .9-3 .7-2.5 .2 M267.9 131.6l-.5 .1 0-4.7 0-9 0-5.7 1 .4 .5 .5 1 1.8 .9 3 .4 3.5-.2 3-.7 3.5-1.2 2.5-.7 .8-.5 .3 M369.4 124.6l-.5-.1-.5-1 .3-1 .7-.6 .5 .1 .4 .5 .1 .5-.3 1-.7 .6 M379.4 162l-10 0-9.3 0 1.3-.7 2.5-.6 3-.3 3-.1 3.5 .1 3 .4 2.5 .6 1 .6-.5 0 M364.9 77.1l-3 .2-2.4-.3-1.8-1-1.1-1.5-.8-2.5-.1-3 .7-3.5 1.3-3 1.3-2 2-2 2.4-1.7 2.5-1.1 2.5-.6 3-.2 2.5 .5 2.5 1 1.5 1 1.1 1.1 1 1.5 .6 1.5 .3 1.5-.1 2-.4 1.5-.6 1.5-1 1.5-1.3 1.5-3.3 2.5-4.3 2.1-5 1.5 M314.4 131l-4 0-2-.3-2-.6-3-1.6-1.1-1-1.3-1.5-.8-1.5-.5-1.5-.1-3 .2-1.5 .6-2 .7-1.5 1.3-2 1.7-2 1.8-1.7 2-1.5 2.5-1.6 4.5-2.1 8.9-3.1 2.8-1.5 2.3-2 5-5.7 2-1.7 2-1.3 3-1.4 2.5-.5 2.5 .1 1.5 .6 1.2 1.4 .4 1.5-.1 2-.8 2.5-1.1 2-1.6 2-6.2 6-1.6 2-1.3 2.5-2.6 7.5-1.3 2.5-1.4 2-3.1 3.4-2 1.6-2 1.3-2 1.1-2.5 1-2.5 .7-2.5 .4 M268.4 130.6l-1 .4 0-9 0-9 1 .4 1.1 1.6 1 3 .4 3-.1 3-.6 3-.8 2.2-1 1.4 M377.9 162l-8 0-8.1 0 1-.5 2.1-.5 5-.4 5.2 .4 2 .5 1.1 .5-.3 0 M365.9 76l-2.5 .3-2.5-.2-2-.9-1.2-1.2-.8-2-.3-3 .5-3 .9-2.5 1.2-2 1.7-2 2-1.6 2.5-1.3 2.5-.7 2.5-.3 2.5 .3 2.5 .8 1.3 .8 1.2 1 1.1 1.5 .7 1.5 .3 1.5 0 1.5-.3 1.5-.6 1.5-1.7 2.5-1.5 1.5-1.5 1.1-4 2.1-4.5 1.3 M315.9 129.5l-4 .3-3.5-.6-1.9-.7-1.6-.9-1.3-1.1-.9-1-.8-1.5-.6-1.5-.2-1.5 .1-1.5 .4-2 .5-1.5 1.8-3 1.8-2 1.6-1.5 2.1-1.6 2.5-1.5 5-2.1 8.5-2.7 2.5-1.3 2-1.8 3.1-4 1.9-2 1.7-1.5 1.8-1.2 2-.9 2-.5 2 0 1.5 .6 1 1 .4 1.5-.1 2-.8 2-1 1.6-1.6 1.9-5.6 5-1.8 2.1-1.1 2.4-2.3 7.5-1.3 2.5-1.3 2.1-3 3.3-3.5 2.6-4 2-4 1 M267.9 130.2l-.5 .1 0-3.8 0-7.5 0-5.3 1 .4 1.2 1.9 .7 2.5 .3 3-.1 2.5-.6 3.1-1 2.2-1 .9 M375.9 162l-12.3 0 2.3-.7 4-.3 4 .3 2.4 .7-.4 0 M366.9 75l-2.5 .4-2.5-.1-2-.8-1.1-1-.9-1.7-.4-2.3 .2-2.5 .7-2.5 1-2 1.5-2 2-1.8 2-1.1 2.5-.9 2.5-.4 2.5 .2 2 .6 1.5 .8 1 .8 1 1.1 .7 1.2 .5 1.5 .1 1.5-.2 1.5-.5 1.5-1.6 2.5-2.5 2.3-3.5 1.9-4 1.3 M314.4 128.5l-3.5-.1-3-.8-2.5-1.5-1.8-2.1-.9-2.5-.1-1.5 .1-1.5 1-3 1.6-2.5 1.8-2 1.6-1.5 2.2-1.5 2.5-1.4 5-2 9-2.4 2.4-1.2 1.5-1.5 2.6-3.9 1.3-1.6 1.5-1.5 1.7-1.2 1.7-.8 1.8-.4 1.5 0 1 .4 .8 1 .3 1-.1 1.5-.6 1.5-1 1.5-1.4 1.6-2 1.7-4 3-1.4 1.7-.8 2-1 5-.9 3-1.4 3-1.7 2.5-1.3 1.5-2 1.9-3.5 2.3-4 1.6-4 .7 M267.9 129.6l-.5 .1 0-3.2 0-7 0-5.2 1 .5 1 1.6 .7 2.6 .3 2.5-.1 2.5-.5 2.5-.9 2.1-1 1 M373.9 162l-8 0 2-.4 2-.1 2 .1 2.2 .4-.2 0 M365.4 74.5l-2 0-2-.4-1.5-1-1-1.5-.5-2.1 0-2 .6-2.5 .9-2 1.4-2 1.6-1.4 2-1.3 1.9-.8 2.1-.4 2-.1 2 .3 2 .8 2 1.7 .8 1.2 .5 1 .2 1 0 1.5-.3 1.5-.6 1.5-2 2.5-2.6 2-3.5 1.6-2 .6-2 .3 M336.9 100l-1.5 .1-.5-.5-.1-.6 .5-2 1.1-1.8 1.5-1.6 1.5-.9 1.5-.5 1 .1 .6 .2 .5 .5 .2 1-.2 1-.9 1.5-2.2 2.1-1.5 .9-1.5 .5 M317.4 127l-3.5 .4-3-.2-3-1.1-2-1.5-1.4-2.1-.5-2.5 .2-2.5 1.3-3 1.9-2.5 2.5-2.3 3-2 3-1.5 4-1.3 4-.8 5.5-.7 1.3 .1 .7 .2 .5 .5 .4 1.3 .2 2.5-.1 2.5-.9 4-1.6 3.5-2.5 3.3-3 2.5-3.5 2-3.5 1.2 M267.4 129.1l0-7.1 0-7.1 1 .5 .9 1.6 .6 2.5 .3 2.5-.2 2.5-.7 2.5-.9 1.6-1 .5 M366.9 73.6l-2.5 .2-1.7-.3-1.8-.9-.9-1.1-.7-1.5-.2-2 .3-2 .7-2 .9-1.5 1.4-1.7 1.6-1.3 1.9-1 2-.6 2-.3 2 .2 2 .6 1 .6 1.2 1 1.2 2 .3 1 .1 1.5-.8 2.5-1.5 2.2-2.5 2.1-3 1.4-3 .9 M316.9 126.1l-3 .3-3-.4-2.3-1-1.8-1.5-1.2-2-.3-2 .3-2.5 1.1-2.5 1.8-2.5 2.2-2 2.7-1.8 3-1.4 3.5-1.2 4-.7 3.5 0 2 .6 1 1 .5 1 .3 1.5 .1 1.5-.5 3.5-1.6 3.5-2.3 3.1-3 2.5-3.5 1.9-3.5 1.1 M267.4 128.5l0-6.5 0-6.5 .5 .1 .5 .5 .8 1.4 .5 2 .2 2.5-.2 2.5-.5 2-.8 1.5-.5 .4-.5 .1 M365.4 73l-1.5-.1-1.5-.5-1.2-.9-.9-1.5-.3-1.5 .1-2 .6-2 .8-1.5 1.1-1.5 1.3-1.1 1.5-1 2-.8 2-.3 1.5 0 2 .5 1.5 .7 1.5 1.5 .9 2 0 2-.4 1.5-.5 1-2 2.3-2.5 1.6-3 1.2-3 .4 M317.4 125l-3 .3-2.5-.3-2-.7-1.8-1.3-.7-1-.5-1-.4-2 .2-2 1.1-2.5 1.4-2 2.2-2.1 2.5-1.7 3-1.4 3-1 3.5-.5 2.5 .1 2.2 .6 .8 .6 .7 .9 .4 1 .3 1.5-.3 3-.6 2-.8 1.5-2.2 3-2.5 2.2-3 1.7-3.5 1.1 M267.9 127.8l-.5 .1 0-1.4 0-5.5 0-4.9 .5 .1 .5 .5 .5 .9 .6 1.9 .2 2-.1 2-.4 2-.6 1.5-.7 .8 M367.4 72.1l-2 .1-1.5-.2-1.1-.5-1.1-1-.6-1-.3-1.5 0-1.5 .6-2 .9-1.5 1.1-1.3 1.4-1.2 1.6-.9 1.5-.4 2-.3 1.5 .2 1.5 .4 1 .6 1 .8 .9 1.6 .3 2-.5 2-1.3 2-1.9 1.6-2.5 1.3-2.5 .7 M317.9 124l-2.5 .4-2.5-.2-2-.7-1-.6-1-.9-.9-1.5-.3-2 .3-2 .8-2 1.4-2 1.7-1.6 2.5-1.8 2.5-1.2 2.5-.8 3-.5 2.5 .1 2 .5 1 .7 .6 .6 .5 1 .3 1.5-.1 2.5-1.2 3-1.7 2.5-2.4 2.2-3 1.8-3 1 M267.9 127.2l-.5 .1 0-5.3 0-5.3 .5 .1 .5 .6 .5 1 .6 3.1-.1 1.7-.3 1.8-.6 1.5-.6 .7 M368.9 71l-2 .4-1.5 0-1.5-.4-.9-.5-.8-1-.4-1-.2-1 .1-1.5 .5-1.5 .9-1.5 .9-1 1.4-1.1 1.5-.8 1.5-.4 1.5-.1 1.5 .2 2 .9 1.3 1.3 .6 1.5-.1 2-.8 1.7-1.5 1.7-2 1.3-2 .8 M318.4 123l-2.5 .4-2-.1-2-.6-1.5-1-1-1.2-.6-2 .1-1.5 .6-2 1.3-2 1.6-1.6 2-1.5 2.5-1.3 2.5-.8 2.5-.5 2.5 .1 1.8 .6 1.3 1 .6 1 .3 1-.1 2.5-.8 2.5-1.6 2.4-2 1.9-2.5 1.6-3 1.1 M267.9 126.5l-.5 .2 0-9.4 .5 .2 .7 1 .4 1.5 .2 1.5-.3 3.1-.5 1.3-.5 .6 M367.9 70.5l-2.5 0-1-.3-1-.7-.6-1-.3-1 0-1 .3-1.5 .6-1.1 1-1.3 1-.9 1.2-.7 1.3-.5 1.5-.2 1.5 .1 1 .3 1.5 1 .8 1.3 .3 1.5-.3 1.5-.9 1.5-1.4 1.3-2 1.2-2 .5 M315.9 122.5l-2-.2-1.5-.6-1.1-.7-.9-1.2-.4-1.3-.1-1.5 .6-2 .9-1.5 1.3-1.5 1.7-1.4 2-1.1 2-.8 2.5-.6 2 0 1.5 .2 1.5 .7 .6 .5 .7 1 .4 2-.5 2.5-1.4 2.5-2 2-2.3 1.6-2.5 1-3 .4 M267.4 126.1l0-8.1 .5 .2 .5 .8 .5 1.5 .1 1.5-.1 1.5-.5 1.5-.5 .8-.5 .3 M368.9 69.5l-2 .3-1-.1-1-.4-.5-.3-.7-1-.3-1 .1-1 .8-2 1.6-1.7 2-1 1.5-.2 1 .1 1.5 .5 1 .8 .5 1 .1 1.5-.5 1.5-1.1 1.4-1.5 1-1.5 .6 M317.4 121.5l-2 .1-1.5-.4-1.3-.7-1-1-.5-1-.1-1.5 .3-1.5 .7-1.5 1.2-1.5 1.2-1 1.5-1 2-1 2-.6 2-.2 1.5 .2 1.6 .6 .6 .5 .7 1 .4 1.5-.3 2-.9 2-1.6 1.9-2 1.5-2 1-2.5 .6 M267.9 125.1l-.5 .2 0-6.6 .5 .2 .3 .6 .5 2-.2 2-.6 1.6 M368.9 68.6l-1.5 .2-1.6-.3-1-1-.3-1.5 .5-1.5 1.4-1.5 1.5-.8 2-.2 1 .3 1 .7 .5 1 .1 1-.3 1-.8 1.1-1.1 .9-1.4 .6 M318.4 120.5l-1.5 .2-1.5-.1-1.5-.6-1-.8-.7-1.2-.1-1 .1-1 .5-1.5 1.1-1.5 1-1 1.5-1 1.6-.8 2-.6 1.5-.1 1.5 .1 1.1 .4 1.2 1 .5 1 .1 1.5-.6 2-1.3 1.9-1.5 1.3-2 1.2-2 .6 M267.9 124.1l-.5 .4 0-5 .5 .4 .4 1.6 0 1.5-.4 1.1 M368.4 67.6l-1 0-1-.5-.4-.6-.1-1 .5-1 1-.9 1.5-.5 1 .2 1 .7 .2 .5 0 1-.7 1-.5 .5-1.5 .6 M318.9 119.5l-1.5 .3-1.5-.2-1-.3-1-.8-.6-1-.1-1 .2-1 .4-1 1.6-2 2.5-1.5 1.5-.5 1.5-.2 1.5 .1 1 .4 1 .9 .4 1.3 0 1-.5 1.5-.9 1.3-1.3 1.2-1.7 1-1.5 .5 M267.4 123.2l0-2.4 .5 1.2-.5 1.2 M318.9 118.6l-2 .1-1-.3-.6-.4-.5-.5-.4-1 .1-1 .4-1 1.5-1.8 2-1.1 2-.5 1 .1 1 .3 .8 .5 .5 1 .1 1-.4 1.2-.9 1.3-1.1 1-1 .6-1.5 .5 M319.9 117.5l-2 .4-1.5-.3-.6-.6-.3-.5 .1-1.5 1-1.5 1.3-1 2-.6 1.5 .1 1 .5 .3 .5 .2 .5-.1 1-.9 1.6-1 .9-1 .5" fill="none" stroke="#000" stroke-width="0.85" stroke-linejoin="round"/>
<path d="M348.5 162.0 Q350.0 159.0 354.5 159.0 L385.5 159.0 Q390.0 159.0 391.5 162.0 Z" fill="#0a0a0a"/>
<rect x="267.4" y="25.5" width="164.1" height="136.5" fill="none" stroke="#000" stroke-width="2.6"/>
<path d="M348.9 25.5 V162.0 M267.4 94.6 H431.5" stroke="#000" stroke-width="1.9" fill="none"/>
<path d="M267.4 162.0 v5.2 M267.4 163.2 h-5.2 M279.7 162.0 v3.3 M267.4 152.9 h-3.3 M287.0 162.0 v3.3 M267.4 146.9 h-3.3 M292.1 162.0 v3.3 M267.4 142.7 h-3.3 M296.1 162.0 v3.3 M267.4 139.3 h-3.3 M299.3 162.0 v3.3 M267.4 136.6 h-3.3 M302.1 162.0 v3.3 M267.4 134.4 h-3.3 M304.4 162.0 v3.3 M267.4 132.4 h-3.3 M306.5 162.0 v3.3 M267.4 130.6 h-3.3 M308.4 162.0 v5.2 M267.4 129.1 h-5.2 M320.8 162.0 v3.3 M267.4 118.8 h-3.3 M328.0 162.0 v3.3 M267.4 112.8 h-3.3 M333.1 162.0 v3.3 M267.4 108.5 h-3.3 M337.1 162.0 v3.3 M267.4 105.2 h-3.3 M340.3 162.0 v3.3 M267.4 102.5 h-3.3 M343.1 162.0 v3.3 M267.4 100.2 h-3.3 M345.5 162.0 v3.3 M267.4 98.3 h-3.3 M347.6 162.0 v3.3 M267.4 96.5 h-3.3 M349.4 162.0 v5.2 M267.4 95.0 h-5.2 M361.8 162.0 v3.3 M267.4 84.7 h-3.3 M369.0 162.0 v3.3 M267.4 78.7 h-3.3 M374.1 162.0 v3.3 M267.4 74.4 h-3.3 M378.1 162.0 v3.3 M267.4 71.1 h-3.3 M381.4 162.0 v3.3 M267.4 68.4 h-3.3 M384.1 162.0 v3.3 M267.4 66.1 h-3.3 M386.5 162.0 v3.3 M267.4 64.1 h-3.3 M388.6 162.0 v3.3 M267.4 62.4 h-3.3 M390.5 162.0 v5.2 M267.4 60.8 h-5.2 M402.8 162.0 v3.3 M267.4 50.6 h-3.3 M410.0 162.0 v3.3 M267.4 44.5 h-3.3 M415.2 162.0 v3.3 M267.4 40.3 h-3.3 M419.2 162.0 v3.3 M267.4 37.0 h-3.3 M422.4 162.0 v3.3 M267.4 34.3 h-3.3 M425.1 162.0 v3.3 M267.4 32.0 h-3.3 M427.5 162.0 v3.3 M267.4 30.0 h-3.3 M429.6 162.0 v3.3 M267.4 28.3 h-3.3 M431.5 162.0 v5.2 M267.4 26.7 h-5.2" stroke="#000" stroke-width="1.1" fill="none"/>
<text class="tk" x="266.6" y="174.9" text-anchor="middle">0.1</text>
<text class="tk" x="258.6" y="166.3" text-anchor="end">0.1</text>
<text class="tk" x="307.6" y="174.9" text-anchor="middle">1</text>
<text class="tk" x="258.6" y="132.2" text-anchor="end">1</text>
<text class="tk" x="348.6" y="174.9" text-anchor="middle">10</text>
<text class="tk" x="258.6" y="98.0" text-anchor="end">10</text>
<text class="tk" x="388.5" y="174.9" text-anchor="middle">100</text>
<text class="tk" x="258.6" y="63.9" text-anchor="end">100</text>
<text class="tk" x="429.0" y="174.9" text-anchor="middle">1000</text>
<text class="tk" x="258.6" y="29.8" text-anchor="end">1000</text>
<path d="M53 335.4l-1 .3 0-9.5 0-48 0-8.5 0-5 1 .4 1 1.3 .8 1.8 .9 2.5 1.1 5 1.7 11.5 .5 1.7 .5 .8 .5 .4 1.5-.1 2-.9 2-1.2 6.5-5.4 5-3.7 4.5-2.7 5-2.7 5.5-2.4 5.5-1.9 4.5-1.1 8-1.5 4-1.2 3.4-1.6 7.6-4 2.6-1.5 2.9-2 3.9-3.5 1.6-2 .9-1.5 .6-1.5 .5-2 .4-7.5 .3-2 .7-2 1.2-2.5 1.5-2 1.9-1.8 2-1.4 2.5-1.2 2.5-.7 2.5-.3 2.5 .2 2.5 .5 2.5 .9 2.5 1.6 2 1.8 1.2 1.4 1.2 2 .9 2 .5 2 .3 2 0 2-.4 2.5-.7 2-1.3 2.5-1.3 2-4.4 5.3-4.8 6.7-7.3 8.5-1.2 2 0 .5 .3 .5 1.5 .5 2 0 4-.4 2 0 2 .3 2.5 .8 2 1.1 2 1.7 1.5 2 .9 2 .6 2.5 0 3-.7 6.5-.9 4.5-1.2 3.5-1.4 3-2 3-2.3 2.6-3 2.4-3 1.3-2 .5-1.5 .1-3-.5-2.5-1.3-2-1.6-2.1-2.5-3.9-6-1-.8-1-.1-1 .3-1.5 1.1-6 6-4 3.5-3.5 2.7-4 2.5-4.5 2.5-5.5 2.4-5 1.7-5 1.4-5.5 .9-5 .5-5-.1-5-.6-4.5-1.1-3.5-1.4-3.3-1.9-3.7-2.9-.5-.3-.5 .1-.5 .5-.5 1-2.2 8.1-1.2 3.5-1.1 2.4-1 1.3 M175 335.7l-7.5 0-20 0-14.5 0-6.5 0 .9-1 1.6-.9 2.5-.9 2.5-.6 4.5-.8 4.5-.4 8-.3 8 .3 4.5 .4 4.5 .8 3 .8 2.5 1 1.6 1.1 .3 .5-.4 0 M111 335.7l-7.5 0-16 0-15.5 0-7.5 0 1.5-.9 1.5-.7 5-1.2 7-1 7-.2 8 .3 8 .9 5.5 1.3 2 .8 1 .7 M52.5 331.9l-.5 .1 0-1.3 0-12 0-38 0-7.5 0-5 1 .4 .8 1.1 .7 1.5 .8 2.5 1.4 6.5 1.3 9.8 .5 1.9 .4 .8 .6 .7 1 .2 4.3-.9 1.7-.7 1.5-1.1 6-5.5 4.5-3.6 4-2.8 5-2.9 4.5-2.2 5-1.9 4-1.1 8.5-1.8 4-1.4 13.9-7.5 5.1-3.5 4-3.6 1.5-1.9 1-1.6 .8-1.9 .4-1.5 .4-7.5 .9-3.5 .9-2 1.5-2 1.5-1.5 1.6-1.1 2-1 2.5-.7 2.5-.3 2 .2 2.5 .6 2 .9 2 1.3 1.5 1.5 1.3 1.6 .8 1.5 .7 2 .4 2 0 2-.2 2-.6 2-.7 1.5-1.6 2.5-4.1 5.2-4.3 6.3-5.8 6.5-4.9 4.7-3 2.2-5.7 3.6-1.7 1.5-.9 1-.8 1.5-.2 1.5 .8 4 0 2-.7 3.5-1.1 3.5-1.6 3.5-2.3 3.5-2.8 3.5-3.1 3-3.9 3.2-4 2.7-4.5 2.4-4.5 2-4.5 1.6-5 1.3-4.5 .7-5 .3-4-.1-4-.5-3.5-.9-3.5-1.4-2.5-1.5-2.2-1.8-1.4-1.5-3.9-4.9-1-.5-.5 .1-.5 .6-.5 1.4-1.7 9.3-1.5 6-1.3 3.1-.6 .9-.9 .7 M154.5 309.2l-2.5 .3-2.5-.5-2-1.1-2-2-1.6-2.7-1.1-3.5-.5-3 0-5-.3-1.5-1-1.3-3.4-2.2-.7-1-.2-1 .2-1 1.5-2.5 2-2 2.1-1.2 1.5-.4 1.5-.1 5 .4 6-1.1 3 0 2 .6 2 1.1 1.5 1.4 1.1 1.8 .6 2.5-.1 2.5-1.3 8.5-1.4 4.5-1.8 3.5-2.1 2.6-2.5 2.1-1.5 .8-1.5 .5 M172 335.7l-7 0-15.5 0-13.5 0-6.4 0 1-1 1.4-.7 2-.7 3-.7 6-.8 8-.4 8.5 .4 6.5 1 2.5 .7 1.9 .7 1.6 1 .3 .5-.3 0 M107 335.7l-7 0-12 0-12 0-7.3 0 2.8-1.3 4.5-.9 5.5-.6 6-.2 6.5 .2 5.5 .6 4.5 .9 2 .7 1 .6 M91.5 318.2l-5 .2-4.5-.4-4-1.1-3.5-1.6-2.1-1.6-1.9-2-1.3-2-2.7-5.1-1-1.3-1-.9-2-1.1-.2-.6 .7-.4 2.5-.2 2-1.1 2-1.9 5.6-6.9 3.4-3.5 5-4.2 5.5-3.6 4.5-2.4 4-1.6 4.5-1.3 7.5-1.7 3.5-1.2 16.5-9.5 3-2 2.7-2 4.3-4 1.5-2 .9-1.5 .6-1.5 .6-2 .2-6.5 .6-3 .7-1.5 .9-1.5 1-1.2 1.5-1.2 1.5-.9 1.5-.6 1.5-.3 2-.1 3 .6 1.5 .7 1.5 .9 1.2 1.1 1.1 1.5 .8 1.5 .6 2 .2 1.5-.1 2-.6 2-.6 1.5-1.3 2-4 5-4.5 7-6.1 7-2.2 2.1-2 1.6-7.1 4.3-3 2-2.9 2.5-1.7 2-.8 1.5-.3 1.5 0 6.5-.7 4-.8 2.5-1 2-2.6 4-2.7 3-3.4 3-3.5 2.5-4 2.3-4 1.9-4.5 1.6-4 1-4.5 .7 M52.5 328l-.5 .1 0-12.9 0-30.5 0-12.6 1 .5 .5 .7 .9 1.9 .7 2.5 1.1 5.5 1.3 10.3 1.8 7.2-1.3 4.9-1.7 11.6-1 5-1.3 3.9-.7 1.1-.8 .8 M154.5 302.7l-1.5 .2-1.5-.3-1.4-.9-1.1-1.4-.7-1.6-.5-2 0-2 .4-2.5 .8-2.5 1-2 1.6-2.5 1.4-1.7 1.5-1.2 1.5-.8 2-.5 1.5 .2 1.1 .5 .9 .8 .6 1.2 .2 1-.1 2-1.5 8-.8 2.5-1.4 2.5-2 2.1-2 .9 M168.5 335.7l-6.5 0-11.5 0-11 0-6.3 0 .4-.5 1.4-.8 4-1.1 5.5-.8 6.5-.3 6.5 .3 5.5 .8 4 1.1 1.4 .8 .4 .5-.3 0 M101.5 335.7l-14 0-13.6 0 2.1-.8 3.5-.6 4-.4 4.5-.2 5 .2 4 .5 3 .6 2 .7-.5 0 M91.5 315.2l-3 .1-3-.2-2.5-.5-2.5-.8-2-.9-2-1.4-1.5-1.4-1.3-1.9-.8-2-.3-2 0-2 .4-2 .7-2 1.2-2.5 1.6-2.5 1.9-2.5 2.7-3 3.4-3.1 3.5-2.7 4-2.5 4-2 3.5-1.3 4-1.1 6.3-1.3 3.2-1.1 2.5-1.4 7.5-4.8 6.9-3.7 3.1-2 4.6-3.5 2.9-2.5 1.8-2 1.7-2.5 .9-2 .4-2 .1-5.5 .3-2.5 1-2.5 1.3-1.7 1-.9 1.5-.9 1.5-.5 1.5-.2 1.5 0 1.5 .4 1.5 .6 1.5 1 1 1.1 .8 1.1 .6 1.5 .3 1.5 .1 1.5-.3 1.5-1 2.5-1.4 2-3.8 4.5-4.6 7.5-3.1 4-2.7 3-1.9 1.7-2 1.5-6.5 3.9-3.5 2.4-3.8 3-2.3 2.5-.9 1.5-.4 1.5-.2 7-.7 3.5-1.7 4-2.8 4-2.7 2.9-3 2.5-3 2-3.5 1.9-3.5 1.6-4 1.3-4 .9-3.5 .4 M52.5 325.4l-.5 .1 0-12.3 0-26.5 0-12 .5 .1 .5 .5 .6 .9 .8 2 .8 3 1 7 1.1 9 .2 3-.1 3-.7 6-1.3 9-.7 3-.7 2.1-.8 1.4-.7 .7 M166 335.7l-15.5 0-9 0-5.9 0 .6-.5 1.3-.7 3.5-.9 4.5-.6 5.5-.2 5.5 .2 4.5 .6 3.9 1.1 1.5 1-.4 0 M97.5 335.7l-10 0-9.4 0 1.8-.5 2.6-.4 5.5-.3 6 .4 3.8 .8-.3 0 M92.5 312.7l-3 .1-2.5-.2-2.5-.6-2-.7-2-1.1-1.3-1-1.4-1.5-.8-1.4-.6-1.6-.3-2 .2-2 .4-2 1.8-4 3.1-4.5 2.7-3 3.2-2.8 3-2.3 3.5-2.1 3.5-1.7 3.5-1.3 3-.7 7-1.4 3-1.1 2.5-1.5 6.5-4.4 8.5-4.6 3.5-2.3 7.5-5.8 2.4-2.5 1.7-2.5 .6-1.5 .4-2-.4-5 .2-2.5 .6-2 1-1.5 1-1 1-.6 1-.4 1.5-.3 2.5 .3 2 1 1.5 1.8 .8 2.2-.1 2.5-1.1 2.5-1.1 1.5-4.3 4.5-1 1.5-1.7 3.5-1.5 2.5-3.2 4.5-2.5 3-3.3 2.7-6 3.5-3.5 2.4-5.1 3.9-2.6 2.5-.9 1.5-.6 2-.3 6.5-.6 3.5-.8 2-1 2-2.4 3.5-2.2 2.3-2.5 2.2-3 2.1-3 1.6-3.5 1.6-3 1-3.5 .8-3.5 .4 M52.5 323.4l-.5 .1 0-11.3 0-23.5 0-12 .5 .1 .4 .4 .6 .9 .8 2.1 .6 2.5 1.3 9 .7 8.5-.6 8-1 8-1.3 4.8-.8 1.7-.7 .7 M164 335.7l-13.5 0-12.8 0 1.6-1 3.2-.8 4-.5 4.5-.2 5 .2 4 .6 2.7 .7 1.6 1-.3 0 M93 335.7l-10.3 0 5.3-.4 5.2 .4-.2 0 M152.5 246.3l-1-.1-.5-.4-1-1.4-.7-2.7 .1-2.5 .6-1.6 .7-.9 .8-.6 1.5-.7 2 .1 1.5 .6 1.1 1.1 .7 1.5 0 2-.8 2-1.3 1.5-1.7 1.3-2 .8 M96.5 310.2l-3 .4-2.5 0-2.5-.2-2.5-.6-2-.8-1.5-.9-1.5-1.4-1-1.5-.6-1.5-.3-2 .1-2 .6-2.5 .8-2 1.4-2.5 1.8-2.5 1.8-2 2.5-2.5 2.4-2 2.5-1.7 3-1.8 3-1.3 3-1.1 3.5-.8 6.5-1 3-1 2-1.1 4.1-3.2 3-2 8.4-4.2 6.5-4.4 2.5-1.5 2-1 1.5-.2 .3 .3 .1 .5-.9 2.5-1.3 2-1.7 1.9-2.1 1.6-6.9 4.2-9.2 6.8-2 2-.9 1.5-.4 1.5-.3 7-.8 4-.8 2-1.1 2-2.7 3.5-3.8 3.4-4.5 2.9-4.5 1.9-5 1.3 M52.5 321.7l-.5 .2 0-10.7 0-21 0-11.9 .5 .2 .5 .5 .5 .9 1.3 4.3 1 7 .6 8.5-.2 6-1.1 9-1.1 4.5-.7 1.5-.8 1 M162.5 335.7l-11.5 0-11.6 0 1.6-.9 2.5-.6 3.5-.4 4-.2 4 .2 3.5 .4 2.5 .6 .9 .4 .6 .5 M154.5 241.8l-1 .3-.5-.1-.5-.4-.4-.9 0-.5 .3-1 .4-.5 .7-.4 1 .1 .5 .3 .5 .9-.1 1.1-.9 1.1 M94 308.7l-2.5 0-2-.3-2-.5-1.5-.7-1.5-.9-1.1-1.1-.7-1-.7-1.5-.3-1.5 0-2 .2-1.5 .6-2 1-2 1.1-2 2.8-3.5 2.5-2.5 2.6-2.1 3-2 3-1.5 3-1.2 3.5-.9 10-1 3-.6 1-.4 2.7-3.3 2.4-2 3-1.5 1.4-.3 1 .1 .2 .2-.5 1-2 2-3.2 2.1-4.1 1.9-.4 .3-.5 .7-.5 1.7-.3 1.8 .1 7-.4 3.5-.6 2-.9 2-1.2 2-1.7 2.1-1.8 1.9-2.2 1.8-2.5 1.7-2.5 1.3-2.5 1-3 1-2.5 .5-2.5 .2 M52.5 320.2l-.5 .2 0-10.2 0-19 0-11.4 .5 .2 .5 .5 .5 1 1.1 3.7 1 7.5 .5 7-.3 6.5-.9 7.5-1.2 4.5-.7 1.5-.5 .5 M160.5 335.7l-10 0-9.4 0 .9-.5 2.5-.7 3-.4 3.5-.1 3.5 .1 3 .4 2.5 .7 .8 .5-.3 0 M97.5 306.7l-3.5 .3-3.5-.4-3-1.1-1.1-.8-1-1-.7-1-.6-1.5-.3-1.5 .1-1.5 .7-3 1.7-3.5 2.7-3.5 3.1-3 3.4-2.5 4-2.2 4-1.3 4-.7 4.5 0 2 .4 1 .4 .9 .9 .6 1.7 .5 2.8 .1 3-.2 2-.5 2-.8 2-1.1 2.1-1.4 1.9-1.6 1.8-2 1.8-2 1.4-2.5 1.5-2.5 1.1-2.5 .8-2.5 .6 M52.5 318.9l-.5 .2 0-9.4 0-17.5 0-11.1 .5 .2 .9 1.4 1 3.5 .9 6.5 .5 7-.2 5.5-.9 7.5-1 4-.7 1.6-.5 .6 M159 335.7l-8 0-8.1 0 1-.5 2.1-.5 5-.4 5 .4 2.1 .5 1 .5-.1 0 M97.5 305.2l-3.5 .2-3-.6-2.4-1.1-1.6-1.6-.5-.9-.5-1.5-.1-2.5 .7-3 1.6-3 2.2-3 3.1-3 3-2.2 3.5-1.9 3.5-1.2 4-.6 3.5 .2 1.5 .3 1 .5 1 1 .8 1.4 .5 2 .2 2.5-.2 2-.4 2-.8 2-1.1 2-1.5 2-1.5 1.6-2 1.7-2 1.4-2 1.1-2.5 1.1-2.5 .7-2 .4 M52 317.8l0-17.6 0-17.8 .5 .2 .7 1.1 1.1 3.5 .9 6.5 .3 6.5-.3 6-.8 6.5-1 3.5-.9 1.4-.5 .2 M157 335.7l-12.3 0 2.3-.7 4-.3 4 .3 2.3 .7-.3 0 M98 303.7l-3 .2-2.5-.5-1.5-.6-1-.6-1.4-1.5-.8-2-.1-2.5 .6-2.5 1.6-3 2.3-3 2.5-2.5 2.8-2 3-1.6 3.5-1.1 3-.5 3 .2 1.5 .4 1 .6 1.1 1 .8 1.5 .4 1.5 .2 2-.2 2-.5 2-.8 1.9-.9 1.6-2.6 3.1-3.5 2.8-4 2-2.5 .8-2 .3 M52.5 316.5l-.5 .2 0-7.5 0-14.5 0-11.2 .5 .3 .5 .6 1 3.3 .9 5.5 .4 6-.2 5.5-.7 6-.9 4-.5 1.1-.5 .7 M154.5 335.7l-7.5 0 2-.4 2-.1 2 .1 2 .4-.5 0 M99 302.3l-3 .1-2.5-.4-2-1-1.2-1.3-.9-2-.1-2 .6-2.5 1.2-2.5 1.8-2.5 2.4-2.5 2.6-2 2.8-1.5 2.8-1 3-.5 3 .3 2 .7 1 .8 .8 1.2 .5 1.5 .2 1.5 0 1.5-.4 2-.7 2-.8 1.5-2.4 3-3.2 2.6-3.5 1.8-4 1.2 M52.5 315.3l-.5 .3 0-6.9 0-13.5 0-10.5 .5 .2 .5 .7 1 3.4 .7 4.7 .3 5.5-.1 5-.6 5.5-.8 3.7-.5 1.2-.5 .7 M100.5 300.8l-2.5 .3-2.5-.2-2-.7-1.5-1.3-.9-1.7-.2-2 .3-2 1.1-2.5 1.7-2.5 1.8-2 2.2-1.8 2.5-1.5 2.5-.9 3-.6 2.5 .1 2 .7 1 .7 .7 .8 .5 1 .4 1.5 .1 1.5-.2 1.5-1.1 3-1.9 2.8-2.9 2.7-3.1 1.8-3.5 1.3 M52.5 314.2l-.5 .3 0-5.8 0-12.5 0-10.5 .5 .3 .5 .8 .8 2.9 .7 4.5 .3 5-.1 4.5-.5 5-.7 3.4-.5 1.4-.5 .7 M99.5 299.7l-2 .1-2-.5-1.5-.8-1.1-1.3-.5-1.5 0-2 .6-2 1-2 1.4-2 2-2 2-1.5 2.1-1.1 2.5-.8 2-.3 2 .1 2 .7 1.5 1.4 .5 1 .4 1.5 0 1.5-.3 1.5-.6 1.5-.8 1.5-2 2.5-2.7 2.1-3 1.6-3.5 .8 M52 313.4l0-13.2 0-13.4 .5 .3 .5 .8 .8 2.8 .6 4.5 .2 5-.2 5-.7 4.5-.7 2.6-.5 .9-.5 .2 M101.5 298.3l-2 .2-2-.1-1.8-.7-1.1-1-.7-1.5-.2-1.5 .2-1.5 .8-2 1.3-2 1.3-1.5 1.7-1.5 2-1.2 2-.8 2.5-.5 2 0 1.5 .5 1.5 1.1 .6 .9 .4 1 .1 1-.1 1.5-.8 2.5-1.7 2.5-2 1.9-2.5 1.6-3 1.1 M52 312.3l0-12.1 0-12.3 .5 .3 .5 .9 .6 2.1 .6 4.5 .2 4.5-.2 5-.6 4-.6 2-.5 .9-.5 .2 M101 297.3l-2 0-1.5-.3-1.2-.8-.8-.9-.4-1.1-.1-1.5 .3-1.5 .9-2 1.1-1.5 1.5-1.5 1.7-1.3 2-1 2-.5 1.5-.1 1.5 .1 1.5 .7 1.2 1.1 .4 1 .2 1-.1 2-1.1 2.5-1.6 2-2 1.6-2.5 1.3-2.5 .7 M52 311.3l0-11.1 0-11.3 .5 .3 .5 1 .5 2 .5 3.6 .2 4.4-.2 4-.5 3.9-.5 1.9-.5 1-.5 .3 M100.5 296.2l-1.5-.2-1-.4-1-.8-.5-.8-.3-1.3 .1-1 .4-1.5 .8-1.5 1.1-1.5 1.1-1 1.5-1 1.8-.8 1.5-.4 1.5-.1 1.5 .3 1 .5 1 1 .4 1 .2 1-.4 2-1 2-1.7 1.9-2 1.4-2.5 1-2 .2 M52 310.2l0-10 0-10.2 .5 .4 .5 1.1 .5 2.2 .4 3.5 .1 3-.2 3.5-.3 3-.5 2.1-.5 1.1-.5 .3 M103 294.8l-2.5 .3-1-.2-1.1-.7-.8-1-.2-1 0-1 .5-1.5 .8-1.5 .9-1 2.4-1.7 1.5-.6 1.5-.3 1.5 .1 1 .3 1 .8 .7 1.4 0 1.5-.5 1.5-.9 1.5-1.3 1.3-1.5 1-2 .8 M52.5 308.7l-.5 .4 0-18 .5 .4 .6 1.7 .4 2.5 .3 3.5-.3 5.6-.5 2.7-.5 1.2 M103.5 293.7l-2 .3-1-.2-1-.5-.6-.6-.3-1 0-1 .3-1 1.2-2 1.9-1.5 1.1-.5 1.4-.4 2 .2 1.1 .7 .6 1 .2 1-.4 1.5-.9 1.5-.9 1-1.2 .8-1.5 .7 M52 307.9l0-15.6 .5 .5 .5 1.4 .4 3 .1 3-.1 3-.4 2.8-.5 1.5-.5 .4 M103 292.8l-1.5-.1-1-.5-.5-.6-.2-.9 .4-1.5 1.1-1.5 1.4-1 1.8-.5 1.5 .1 .6 .4 .7 1 0 1-.3 1-.6 1-.9 .9-1 .6-1.5 .6 M52 306.6l0-13 .5 .5 .5 1.9 .3 4.2-.3 4-.5 1.9-.5 .5 M103.5 291.3l-1 .1-.5-.2-.5-.5-.1-.5 .2-1 .7-1 .7-.5 1-.4 1 .1 .6 .3 .4 .5-.1 1-.9 1.4-1.5 .7 M52 305l0-9.8 .6 1 .4 4-.3 3.5-.2 .7-.5 .6 M52 303.7l0-7.2 .5 .9 .2 2.8-.2 2.6-.5 .9" fill="none" stroke="#000" stroke-width="0.85" stroke-linejoin="round"/>
<path d="M133.0 335.7 Q134.5 331.3 139.0 331.3 L169.5 331.3 Q174.0 331.3 175.5 335.7 Z" fill="#0a0a0a"/>
<rect x="52.0" y="198.7" width="163.0" height="137.0" fill="none" stroke="#000" stroke-width="2.3"/>
<path d="M134.4 198.7 V335.7 M52.0 269.0 H215.0" stroke="#000" stroke-width="1.9" fill="none"/>
<path d="M52.0 335.7 v5.2 M52.0 336.9 h-5.2 M64.3 335.7 v3.3 M52.0 326.6 h-3.3 M71.4 335.7 v3.3 M52.0 320.6 h-3.3 M76.5 335.7 v3.3 M52.0 316.3 h-3.3 M80.5 335.7 v3.3 M52.0 313.0 h-3.3 M83.7 335.7 v3.3 M52.0 310.2 h-3.3 M86.4 335.7 v3.3 M52.0 308.0 h-3.3 M88.8 335.7 v3.3 M52.0 306.0 h-3.3 M90.9 335.7 v3.3 M52.0 304.2 h-3.3 M92.8 335.7 v5.2 M52.0 302.6 h-5.2 M105.0 335.7 v3.3 M52.0 292.3 h-3.3 M112.2 335.7 v3.3 M52.0 286.3 h-3.3 M117.3 335.7 v3.3 M52.0 282.0 h-3.3 M121.2 335.7 v3.3 M52.0 278.7 h-3.3 M124.5 335.7 v3.3 M52.0 276.0 h-3.3 M127.2 335.7 v3.3 M52.0 273.7 h-3.3 M129.6 335.7 v3.3 M52.0 271.7 h-3.3 M131.6 335.7 v3.3 M52.0 270.0 h-3.3 M133.5 335.7 v5.2 M52.0 268.4 h-5.2 M145.8 335.7 v3.3 M52.0 258.1 h-3.3 M152.9 335.7 v3.3 M52.0 252.1 h-3.3 M158.0 335.7 v3.3 M52.0 247.8 h-3.3 M162.0 335.7 v3.3 M52.0 244.5 h-3.3 M165.2 335.7 v3.3 M52.0 241.7 h-3.3 M167.9 335.7 v3.3 M52.0 239.5 h-3.3 M170.3 335.7 v3.3 M52.0 237.5 h-3.3 M172.4 335.7 v3.3 M52.0 235.7 h-3.3 M174.2 335.7 v5.2 M52.0 234.1 h-5.2 M186.5 335.7 v3.3 M52.0 223.8 h-3.3 M193.7 335.7 v3.3 M52.0 217.8 h-3.3 M198.8 335.7 v3.3 M52.0 213.5 h-3.3 M202.7 335.7 v3.3 M52.0 210.2 h-3.3 M206.0 335.7 v3.3 M52.0 207.5 h-3.3 M208.7 335.7 v3.3 M52.0 205.2 h-3.3 M211.1 335.7 v3.3 M52.0 203.2 h-3.3 M213.1 335.7 v3.3 M52.0 201.5 h-3.3 M215.0 335.7 v5.2 M52.0 199.9 h-5.2" stroke="#000" stroke-width="1.1" fill="none"/>
<text class="tk" x="51.2" y="348.6" text-anchor="middle">0.1</text>
<text class="tk" x="43.2" y="340.0" text-anchor="end">0.1</text>
<text class="tk" x="92.0" y="348.6" text-anchor="middle">1</text>
<text class="tk" x="43.2" y="305.8" text-anchor="end">1</text>
<text class="tk" x="132.6" y="348.6" text-anchor="middle">10</text>
<text class="tk" x="43.2" y="271.5" text-anchor="end">10</text>
<text class="tk" x="172.2" y="348.6" text-anchor="middle">100</text>
<text class="tk" x="43.2" y="237.2" text-anchor="end">100</text>
<text class="tk" x="212.5" y="348.6" text-anchor="middle">1000</text>
<text class="tk" x="43.2" y="203.0" text-anchor="end">1000</text>
<path d="M267.5 330.9l-.5 0 0-1.6 0-10.5 0-42 0-7 0-4.4 .5 0 1 .8 1.3 2.1 1.4 4 2.3 9.2 .5 1.1 .5 .5 .5 0 1-.4 5-4.1 4.5-3 4.5-2.4 5-2.1 4.5-1.5 5-1.2 5.5-.8 8-.7 2-.4 1.8-.7 3.2-1.9 8.5-6.4 4.5-2.9 4-2.1 7.5-3 1-.9 .6-1.3 .7-8.5 .8-3 1-2.5 1.6-2.5 1.8-2.1 2.5-2.1 2.5-1.5 2.5-1 3-.7 3-.1 3 .3 3 .8 2.5 1.2 2.5 1.7 2.1 2 1.6 2 1.6 3 1.1 3 .5 3 0 3-.4 3-.8 2.5-1.4 3-1.4 2-1.4 1.5-2 1.8-2 1.3-2.5 1.2-2 .6-2.5 .5-4.5 .3-1.5 .3-1.5 1-3.3 3.5-2.2 1.8-3 1.4-3.7 .8-1.5 .5-1.3 .9-1.6 1.6-2.4 3.5-.8 2.5 .1 2 1.2 5 .4 3.5-.2 4-1 4.5-1.9 4.5-2.3 4-3.2 4-3.6 3.5-3.2 2.6-3.5 2.3-3.5 2-4 1.9-4 1.4-3.5 1.1-4.5 1-4 .5-4.5 .3-4-.1-3.5-.4-4-.8-3.5-1-2.5-.9-3-1.5-4-2.4-1-.1-.5 .3-1 1.7-1.8 4.6-1.2 2.5-1 1.4-1 .7 M372 322.4l-1 .3-1 0-1.5-.5-1.5-1.2-1.5-2.2-1.4-3-3.9-11-1-3.5-.4-3 0-3 .5-3 .9-2.5 1.4-2.5 1.7-2 1.7-1.4 2-1 2.5-.5 2.5 .3 2 .8 2 1.3 1.4 1.5 1.4 2 1.1 2.5 .7 2.5 .3 2.5 0 3.5-.5 3.5-3.5 12.5-1 2.5-1.1 2-1.3 1.6-1.5 1 M330.5 336.2l-7.5 0-17 0-14.5 0-6.7 0 .8-.9 1.9-1.3 2.5-1 3-.9 6-1.1 7-.3 8.5 .4 4 .5 4.5 .9 3 .9 2.3 .9 1.7 1.1 .8 .8-.3 0 M395 336.2l-7.5 0-20 0-14.5 0-6.4 0 .9-.9 1.5-.9 2.5-.9 2.5-.6 4.5-.8 4.5-.4 8-.4 8 .4 4.5 .4 4.5 .8 3 .8 2.5 1 1.6 1.1 .3 .4-.4 0 M268 327.4l-1 .3 0-8.4 0-38 0-8 0-4.7 1 .4 .5 .5 .8 1.3 .8 2 1.1 4 1.8 8.6 .5 1.5 .5 .9 .5 .3 1-.1 2-1.3 5.1-4.4 2.9-2.2 4-2.6 3.5-1.8 5-2 5.5-1.7 5-1 8.5-1 3-.8 3.5-1.9 9.5-7.6 3-2.1 3.5-2 3-1.4 2.5-.8 2.5-.6 4-.3 1.5-.7 .5-.8 .2-1.2-.4-6 .1-3 .3-2.5 .6-2 1.4-3 1.8-2.5 2.5-2.3 2.5-1.6 2.5-1 3-.7 2.5-.1 3 .4 2.5 .7 2.5 1.3 2.5 1.8 1.9 2 1.7 2.5 1.1 2.5 .7 2.5 .2 2.5 0 2.5-.5 2.5-.9 2.5-1.3 2.5-1.4 1.9-1.5 1.5-1.5 1.2-2 1.2-2 .8-2.5 .7-2.5 .3-4 .2-1.5 .3-1.2 .9-3.3 4-2 1.7-2.5 1.1-4 .5-1.5 .4-1.5 1-2 2-4.1 5.3-1.2 2-.6 1.5-.1 2.5 .9 5 .2 3.5-.6 4-1.2 4-1.7 3.5-2.3 3.5-2.5 3-3.3 3.1-3 2.3-3.5 2.2-4 2.1-3.5 1.5-3.5 1.1-4.5 1.1-4 .6-4 .2-4-.1-3.5-.4-3.5-.8-3.5-1.1-3-1.4-2.5-1.5-2.4-1.9-2.6-2.5-1-.5-.5 .2-.5 .6-3.3 10.2-1.2 2.4-1 1.2 M371 317.8l-1.5-.1-1-.6-1-1.2-1-1.7-3.8-9.9-.8-3-.4-3 0-2.5 .4-2 .6-2 1-2 1.2-1.5 1.3-1.1 1.5-.8 2-.5 2 .2 1.5 .5 1.5 1 1.1 1.2 1.1 1.5 .9 2 .6 2 .3 2.5-.1 3-.5 3-2.8 9.5-1 2.5-1 1.5-1.1 1.1-1 .4 M327 336.2l-7 0-13.5 0-12 0-6.2 0 1-.9 1.2-.7 2-.8 2.5-.7 6-1 6.5-.2 6.5 .3 6.5 .9 3 .9 2 .8 1 .6 1 .8-.5 0 M392 336.2l-7 0-15.5 0-13.5 0-6.4 0 1-.9 1.4-.7 2-.7 3-.7 6-.8 8-.4 8.5 .4 6.5 1 2.5 .7 1.9 .7 1.6 1 .3 .4-.3 0 M267.5 324l-.5 .1 0-.8 0-11 0-28.5 0-11.6 1 .5 .5 .6 1.4 3 .9 3.5 1.7 9.7 .5 1.9 .5 1.1 .5 .7 .5 .2 1-.2 3-1.5 2-1.4 5.5-5.1 3.5-2.8 3-2 3.5-1.8 4-1.7 4.5-1.4 4.5-1 8-1.2 2-.6 2-.9 3-2 6.1-5.5 3.4-2.7 3-2.1 3.5-1.9 3.5-1.2 3-.4 2 .4 3 1.6 1 .1 1.5-.5 3.5-1.8 .9-1 .1-1-.4-1.5-1.7-4-.7-2.5-.3-3.5 .3-3.5 1-3 1.5-2.5 2.3-2.5 2.5-1.8 2.5-1.1 2.5-.6 2.5-.1 2.5 .3 2.5 .8 2.5 1.3 2 1.6 1.4 1.6 1.4 2 .9 2 .7 2.5 .2 2.5-.2 2.5-.6 2.5-.8 2-1.3 2-1.7 2-1.5 1.2-2 1.3-2 .8-2 .5-2 .2-6-.2-2 .3-.7 .4-.4 .5-1 2.5-.9 1.5-1 1.2-1 .7-1.4 .6-1.1 .1-3-.5-1 0-1 .6-1 .9-9.4 11.4-2.1 3-.5 1.5-.3 1.5 .7 6 0 2.5-.5 3-.7 2.5-1.6 3.5-2.3 3.5-2.6 3-3.2 2.8-3 2.2-3.5 2.1-3.5 1.6-4 1.4-4 1-3.5 .5-4 .2-3.5-.1-3.5-.6-3-.8-2.5-.9-2.5-1.3-2-1.4-2-1.7-5.5-6.1-1-.9-1-.3-.5 .1-.5 .7-.5 1.3-1.7 8.7-1.4 5-1.2 2.5-.7 .9-.5 .3 M371 308.5l-.5 .1-1-.2-1-.9-1-1.5-1.6-3.7-.7-3.5 .1-2.5 .8-2.5 1.4-1.9 1-.6 1-.3 1 0 1 .3 1.5 1.1 .7 .9 .7 1.5 .5 2.5-.1 3-.8 3.2-1.5 3.4-.7 .9-.8 .7 M323 336.2l-6 0-10 0-14.6 0 .6-.5 1.5-.8 3.5-1 5-.7 5-.2 5.5 .3 5 .8 3.6 1.2 1.4 .9-.5 0 M388.5 336.2l-6.5 0-11.5 0-11 0-6.3 0 .4-.4 1.4-.8 4-1.1 6-.8 6-.3 6.5 .3 5.5 .8 4 1.1 1.4 .8 .4 .4-.3 0 M371.5 255.4l-2.5 .1-3-.4-2.5-.7-1.9-1.1-1.6-1.7-1.7-2.8-1-2.5-.5-2.5 0-3 .5-2.5 .9-2.5 1.3-2 1.9-2 2.1-1.5 2.5-1.1 2.5-.6 2.5 0 2.5 .4 2.5 1 2 1.3 2 1.9 1.5 2.1 1.1 2.5 .5 2.5 .1 3-.5 2.5-1 2.5-1.3 2-1.9 2-2 1.4-2.5 1.1-2.5 .6 M307 315.3l-5 .4-5-.4-4.5-1.1-3.9-1.9-3.1-2.4-2.6-3.1-4.5-6.5-.4-1.5 .3-1 .8-1 2.9-2.7 4.1-4.8 2.4-2.5 3.5-2.9 3.5-2.3 4.5-2.2 5-1.8 4.5-1.1 7.5-1.2 3.3-1 1.7-.9 1.5-1.1 8-7.5 3-2.4 2.5-1.6 3-1.5 2.5-.8 2.4-.2 1.6 .5 1 1 .5 1.5-.2 1.5-1.1 2.5-1.5 2.5-1.9 2.5-7.1 8-1 1.5-.8 1.5-.4 2.5 .5 6-.3 3.5-1.3 4-2.2 4-2 2.5-2.5 2.5-2.7 2.2-3 2-3 1.6-3.5 1.5-3.5 1-3.5 .7 M267.5 321.6l-.5 .1 0-11.4 0-24.5 0-11.3 1 .6 .5 .7 .9 2 .8 2.5 .9 5 2.1 13-.3 3-1.6 9.5-1 5-1.3 3.9-.6 1.1-.9 .8 M320.5 336.2l-12.5 0-12.7 0 1.7-.9 3-.9 3.5-.5 4.5-.1 4.5 .2 3.5 .5 2.9 .8 1 .5 .6 .4 M386 336.2l-15.5 0-9 0-5.9 0 .6-.4 1.3-.7 3.5-.9 5-.7 5-.1 5 .1 5 .7 3.9 1.1 1.5 .9-.4 0 M371 254.3l-2.5 0-2.5-.4-2-.8-2-1.3-1.8-2-1.1-2-.8-2-.5-2.5 0-2.5 .5-2.5 .9-2 1.3-2.1 1.9-1.9 2.1-1.4 2-.8 2.5-.4 2 0 2.5 .4 2.5 1.1 2 1.5 1.6 1.6 1.2 2 .8 2 .5 2.5 .1 2-.4 2.5-1 2.5-1.3 2-2 2-2 1.3-2 .8-2.5 .4 M305.5 313.3l-3 .2-2.5-.1-3-.5-2.5-.7-2.5-1.1-2-1.2-1.9-1.6-1.3-1.5-1.3-2-.9-2-.5-2 0-1.5 .3-2 .8-2 1.1-2 1.7-2.5 2.1-2.5 2.4-2.2 3-2.2 3-1.8 4-1.9 4-1.3 4-.9 7-1.2 3.5-1.1 1.5-.9 1.5-1.1 7.4-7.4 2.1-1.8 2.5-1.8 3-1.6 2.5-.8 2-.1 1.3 .6 .7 1 .1 1.5-.6 2-1 2-1.4 2-2 2.5-6.7 7-1.5 2.5-.5 2.5 .5 5.5-.3 3.5-.5 2-.8 2-1 2-1.3 2-2.1 2.5-2.4 2.3-2.5 1.9-3 1.8-3.5 1.7-3 1-3.5 .9-3 .4 M267 319.9l0-7.6 0-14 0-14 0-7.9 .5 .1 .5 .4 .5 .8 .7 1.6 .7 2.5 1.3 7.5 .7 5 .3 4-.5 6-1.5 9.5-.7 2.5-.8 2-.7 1.1-.5 .4-.5 .1 M384 336.2l-13.5 0-12.8 0 1.6-.9 3.2-.8 4-.5 4.5-.2 5 .2 4 .6 2.7 .7 1.6 .9-.3 0 M318 336.2l-10 0-10.2 0 1.7-.7 2.5-.6 3-.4 3-.1 3 .1 3 .4 2.5 .6 1.5 .7 M372 253.3l-2 .2-2.5-.2-2-.6-2-1.1-1.6-1.3-1.5-2-1-2-.5-2-.2-2.5 .2-2 .8-2.5 1.1-2 1.3-1.5 1.9-1.5 2-1.1 2-.5 2.5-.2 2 .3 2 .7 2 1.1 1.5 1.3 1.5 1.9 1 2 .6 2 .2 2.5-.2 2-.6 2-1 2-1.5 1.8-1.5 1.3-2 1.1-2.5 .8 M307 311.4l-3 .2-2.5-.1-2.5-.3-2.5-.6-2-.7-2-1.1-1.5-1.1-1.5-1.6-1.2-1.8-.7-1.5-.5-2-.1-2 .4-2 .7-2 1-2 1.3-2 2.2-2.5 2.9-2.5 3.5-2.3 3.5-1.7 3-1.2 3-.9 10.4-1.9 1.8-.5 1.8-.7 2.5-1.8 6.3-7 2.2-2 2-1.5 2.5-1.4 2-.7 2-.1 1 .5 .5 .9 0 1.3-.7 2-1.2 2-3.1 3.7-6.2 5.8-1.2 1.5-.5 1-.5 2.5 .5 6-.2 3-.4 2-.8 2-2.1 3.5-1.6 2-2 2-2.5 2-2.5 1.6-2.5 1.3-3 1.2-3 .9-3 .6 M267 318.3l0-7.5 0-12.5 0-13 0-7.4 .5 .2 .5 .4 .5 .8 1.3 4 1.4 8.5 .4 6.5-.4 6.5-1.3 8-.7 2.5-.7 1.7-.5 .8-.5 .4-.5 .1 M382.5 336.2l-11.5 0-11.6 0 1.6-.8 2.5-.6 3.5-.4 4-.2 4 .2 3.5 .4 2.5 .6 .9 .4 .6 .4 M315.5 336.2l-7.5 0-7.6 0 1.2-.4 1.9-.4 4.5-.4 4.5 .4 1.8 .4 1.2 .4 M372.5 252.4l-2 .3-2-.1-2-.4-2-.9-1.5-1.1-1.5-1.7-1-1.7-.7-2-.4-2.5 .2-2 .5-2 .9-1.9 1.2-1.6 1.6-1.5 1.7-1 2-.7 2-.3 2 .1 2 .5 2 1 1.5 1.1 1.5 1.7 1 1.6 .7 2 .3 2 0 2-.5 2-.8 2-1.2 1.7-1.5 1.4-2 1.3-2 .7 M306.5 309.8l-4.5 .1-2.5-.4-2-.5-2-.8-1.5-.9-1.5-1.1-1.2-1.4-1-1.5-.6-1.5-.3-1.5-.1-2 .4-2 .5-1.5 1-2 1.3-2 2.3-2.5 2.7-2.2 3.5-2.3 3.5-1.6 5.5-1.8 10.5-1.7 2.5-.6 1.5-.7 2-1.6 4-5.5 3.5-3.5 2-1.4 2-1 1.5-.4 1 .1 .5 .2 .5 1-.2 1-.6 1.5-1.3 2-3.4 3.5-5.7 4.5-.9 1-.6 1-.3 1-.1 1.5 .8 6.5-.1 3-.5 2-.7 2-2.1 3.5-1.7 2-2.1 1.9-2 1.6-2.5 1.5-2.5 1.3-3 1.1-3 .8-2.5 .3 M267.5 316.8l-.5 .2 0-9.2 0-18 0-10.5 .5 .1 .4 .4 .6 1 1.1 3.5 1.2 7 .4 6.5-.3 6.5-1 6.5-1.1 4-.8 1.6-.5 .4 M380.5 336.2l-10 0-9.4 0 .9-.4 2.5-.7 3-.4 3.5-.1 3.5 .1 3 .4 2.5 .7 .9 .4-.4 0 M312 336.2l-8.6 0 2.1-.3 2.5-.2 2 .1 2.5 .4-.5 0 M371.5 251.9l-2 .1-2-.3-1.5-.5-1.6-.9-1.7-1.5-1.1-1.5-.8-1.5-.5-2-.2-2 .3-2 .7-2 .8-1.5 1.3-1.5 1.8-1.4 1.5-.7 2-.6 2-.1 1.5 .2 2 .7 1.6 .9 1.7 1.5 1.1 1.5 .8 1.5 .5 2 .2 2-.3 2-.7 2-.9 1.5-1.3 1.5-1.7 1.3-1.5 .7-2 .6 M333 273.5l-1 .3-.5 0-.4-.5 .4-1.5 1-1.6 1.8-1.9 1.7-1.2 1.5-.6 1 .2 .3 .6-.1 .5-1.1 2-2.1 2.1-2.5 1.6 M307.5 308.3l-4 .2-4-.6-2-.7-1.5-.8-1.5-1-1.1-1.1-.7-1-.8-1.5-.5-1.5-.1-1.5 .4-3 .6-1.5 1-2 2.4-3 2.8-2.5 3.9-2.5 4.1-1.9 4.5-1.3 4.5-.7 7.5-.6 1.5 .1 .8 .4 .8 1 .7 2 .9 3.5 .2 2.5 0 2-.5 2-.7 2-1.1 2-1.4 2-1.9 2-1.8 1.6-2.5 1.7-2.5 1.4-2.5 1-3 .9-2.5 .4 M267.5 315.6l-.5 .1 0-8.4 0-16 0-10.8 .5 .2 .5 .5 .5 .9 1 3.2 .9 5.5 .5 7-.2 5.5-.9 6.5-1.1 4-.7 1.3-.5 .5 M379 336.2l-8 0-8.1 0 1-.4 2.1-.5 5-.4 5 .4 2.1 .5 1 .4-.1 0 M370.5 251.3l-2-.1-1.5-.3-1.5-.7-1.5-1-1.3-1.4-.9-1.5-.6-1.5-.4-2 .1-2 .3-1.5 .8-2 1.1-1.5 1.4-1.3 1.5-.9 1.5-.6 2-.3 2 .1 1.5 .4 1.5 .7 1.5 1 1.3 1.4 .9 1.5 .6 1.5 .4 2-.1 2-.3 1.5-.6 1.5-1.2 1.8-1.5 1.4-1.5 .9-1.5 .6-2 .3 M309 306.8l-4 .4-4-.5-3-1-1.4-.9-1.2-1-.9-1.1-.8-1.4-.6-2.5 0-1.5 .3-1.5 1.3-3 2.2-3 2.7-2.5 3.4-2.2 4-1.9 4-1.3 5-.7 5-.1 1.5 .2 1.1 .5 1.2 1 .8 1.5 .7 2 .5 2.5 0 2-.4 2-.7 2-.7 1.5-1.4 2-1.3 1.5-1.8 1.7-2 1.5-2 1.2-2.5 1.2-2.5 .8-2.5 .6 M267.5 314.5l-.5 .1 0-7.8 0-15 0-10.2 .5 .2 .7 1 1.2 3.5 .8 5.5 .4 6-.2 5.5-.8 5.5-1 4-.6 1.1-.5 .6 M377 336.2l-12.3 0 2.3-.6 4-.3 4 .3 2.3 .6-.3 0 M372.5 250.3l-1.5 .4-2 0-1.5-.3-1.5-.6-1.4-1-1.1-1-1-1.5-.7-1.5-.3-1.5-.1-2 .4-2 .7-1.5 1-1.5 1-1 1.5-1 1.5-.6 1.5-.4 2 0 1.5 .4 1.5 .6 1.5 1 1 1 1 1.5 .7 1.5 .3 1.5 .1 2-.3 1.5-.6 1.5-.9 1.5-1.3 1.4-1.5 1-1.5 .6 M308 305.8l-3.5 .1-3.5-.6-2.5-1.1-1.2-.9-1-1-.6-1-.7-1.5-.2-2.5 .5-2.5 1.5-3 2.1-2.5 3-2.5 3.4-2 3.7-1.5 4-1 4.5-.4 3.5 .3 2 .9 1.2 1.2 .8 1.5 .5 1.5 .3 2-.1 2-.5 2-.8 2-.9 1.5-1.5 1.9-1.5 1.5-3.5 2.5-2.5 1.3-2 .8-4.5 1 M267.5 313.4l-.5 .1 0-7.2 0-13.5 0-10.1 .5 .2 .5 .6 .5 1 .7 2.3 .8 5 .4 5.5-.2 5-.7 5.5-1 4-1 1.6 M375 336.2l-8 0 2-.3 2-.1 2 .1 2 .3 M372 249.9l-1.5 .2-1.5 0-1.5-.4-1.5-.6-1.5-1.2-1-1.1-1.2-2.5-.3-1.5 .1-2 .3-1.5 .7-1.5 .9-1.2 1-.9 1.5-1 1.5-.6 1.5-.2 1.5 0 1.5 .4 1.5 .7 1.2 .8 1 1 .9 1.5 .6 1.5 .3 1.5 0 1.5-.3 1.5-.7 1.6-.9 1.4-1.1 1-1.5 1-1.5 .6 M310 304.4l-3.5 .4-3-.2-3-1-2-1.3-1.5-2-.4-1-.3-1.5 .3-2.5 1-2.5 1.8-2.5 2.6-2.5 3-2 3-1.4 4-1.2 3.5-.5 3.5 .1 2.5 .7 1.1 .8 .9 1 .8 1.5 .5 2-.1 3-.4 1.5-.9 2-2.3 3-3.1 2.7-4 2.1-4 1.3 M267.5 312.3l-.5 .2 0-6.2 0-12.5 0-10.1 .5 .2 .5 .7 1 2.9 .8 4.8 .3 5-.1 4.5-.6 5-.9 3.8-.5 1.1-.5 .6 M371.5 249.4l-1.5 .2-1.5-.2-1.5-.5-1.1-.6-1.2-1-.8-1-.8-1.5-.4-1.5-.1-1.5 .1-1.5 1.1-2.5 .8-1 1.4-1.2 1-.5 1.5-.5 1.5-.1 1.5 .1 1.5 .5 1 .5 1.4 1.2 .8 1 1 2.5 .2 1.5-.1 1.5-.4 1.5-.8 1.5-.8 1-1.3 1.1-1 .5-1.5 .5 M310 303.4l-3 .3-3-.3-2.5-.8-2-1.5-1.2-1.8-.5-2 .3-2.5 1.1-2.5 1.9-2.5 2.3-2 2.6-1.7 3-1.4 3.5-.9 3.5-.4 3 .3 2 .7 1 .8 .9 1.1 .5 1 .4 1.5 .1 1.5-.1 1.5-.5 1.5-.8 1.8-2.1 2.7-2.9 2.5-3.5 1.9-4 1.2 M267.5 311.3l-.5 .2 0-5.2 0-12 0-9.6 .5 .2 .5 .7 .9 2.7 .7 4.5 .3 4.5-.1 4.5-.6 4.5-.7 3.2-.5 1.2-.5 .6 M371.5 248.8l-1.5 .2-1.5-.2-2.3-1-1.2-1-.8-1-.5-1-.5-1.5 0-2.5 .5-1.5 .5-1 .8-1.1 1-.9 1-.6 1.5-.5 2.5-.1 1.5 .4 1 .5 1.1 .8 .9 1 .6 1 .6 1.5 .2 1.5-.1 1.5-.5 1.5-.5 1-.8 1-1 .9-1.1 .6-1.4 .5 M310.5 302.3l-3 .3-2.5-.2-2.1-.6-1.9-1.2-1.1-1.3-.7-2 .1-2 .8-2.5 1.4-2 2-2.1 2.7-1.9 2.8-1.4 3-.9 3-.4 3 .2 2 .6 1 .6 .8 .8 .6 1 .5 1.5 .1 2.5-.4 1.5-.6 1.5-1.7 2.5-2.8 2.5-3.5 1.9-3.5 1.1 M267.5 310.4l-.5 .2 0-4.8 0-11 0-9.1 .5 .2 .5 .7 .7 2.2 .7 4 .3 4.5-.1 4-.5 4.5-.6 2.5-.5 1.3-.5 .8 M371 248.3l-1.5 .1-1-.2-1.5-.6-1-.6-1.5-1.8-.8-2.4 .2-2.5 1.1-2.2 1-1.1 1-.6 2-.7 1.5-.1 1 .2 2 .9 1.7 1.6 .5 1 .5 1.5 0 2.5-.5 1.5-.6 1-1.6 1.5-1 .6-1.5 .4 M310.5 301.4l-2.5 .2-2.5-.2-2-.7-1.5-1.1-1-1.4-.5-1.9 .2-2 .9-2 1.4-2 2-1.8 2.5-1.7 2.3-1 2.7-.8 2.5-.3 2.5 .2 2 .7 1 .7 .9 1 .7 2 0 2.5-1 2.5-1.9 2.5-2.4 2-3.3 1.7-3 .9 M267.5 309.4l-.5 .2 0-11.3 0-11.7 .5 .3 .5 .8 .5 1.6 .7 3.5 .3 4.5-.1 3.5-.4 3.9-.5 2.6-.5 1.3-.5 .8 M370.5 247.8l-1.5-.1-1-.2-1.9-1.2-.8-1-.6-1-.4-2 .2-2 1.1-2 .9-.9 .9-.6 2.1-.6 2 .2 2 1 1.5 1.7 .7 2.2-.2 2.4-1 1.9-1 1-1 .6-2 .6 M311 300.4l-2.5 .3-2-.2-2-.7-1.4-1-1-1.5-.3-1.5 .1-1.5 .8-2 1.4-2 1.6-1.5 2.3-1.5 2-.9 2.5-.8 2.5-.2 2 .1 2 .8 1 .7 .6 .8 .7 2-.1 2-1 2.5-1.5 2-2.2 1.8-2.5 1.4-3 .9 M267.5 308.4l-.5 .2 0-10.3 0-10.7 .5 .3 .5 .8 .5 1.7 .6 3.4 .2 3.5-.1 3.5-.4 3.5-.6 2.5-.7 1.6 M372 246.8l-2 .4-2-.4-1.6-1-.8-1-.5-1-.3-2 .5-2 1.1-1.5 1.6-1.1 2-.4 2 .4 1.6 1.1 1.1 1.5 .5 2-.4 2-.4 1-.9 1-1.5 1 M312 299.3l-2 .4-2 0-2-.5-1.5-.9-.9-1-.6-1.5 .1-1.5 .4-1.5 1.3-2 1.4-1.5 1.8-1.3 2-1 2.3-.7 2.2-.3 2 .2 1.5 .4 1.5 1.2 .8 1.5 .2 2-.6 2-1.3 2-1.6 1.5-2.5 1.6-2.5 .9 M267.5 307.4l-.5 .3 0-9.4 0-9.7 .5 .3 .2 .4 .7 2 .5 3 .2 3-.1 3.3-.4 3.2-.6 2.6-.5 1 M371.5 246.4l-2 .2-1.5-.5-1.5-1.2-.9-1.6-.1-2 .5-1.5 1-1.3 1.5-.8 2-.3 1.5 .5 1.3 .9 .9 1.5 .3 2-.3 1.5-1 1.5-1.7 1.1 M312.5 298.3l-2 .4-1.5 .1-1.5-.3-1.6-.7-1.1-1-.4-1-.2-1.5 .4-1.5 .8-1.5 1.4-1.5 1.2-1 2-1.1 2-.7 2-.3 2 .1 1.5 .5 1.3 1 .8 1.5 .1 1.5-.7 2-1 1.5-1.5 1.5-2 1.2-2 .8 M267.5 306.3l-.5 .3 0-17 .5 .3 .7 1.9 .4 2.5 .2 3 0 3-.3 2.8-.5 2.2-.5 1 M371 245.8l-1.5 .1-1.5-.5-1.1-1.1-.7-1.5 0-1.5 .6-1.5 1-1 1.2-.6 1.5-.1 1.5 .5 1 .9 .7 1.3 .2 1.5-.5 1.5-.9 1.2-1.5 .8 M310.5 297.8l-1.5 0-1.5-.4-1-.7-.7-.9-.4-1 0-1 .5-1.5 .6-1 1-1.1 1.5-1.2 1.5-.8 1.5-.5 1.5-.3 1.5 0 1.5 .4 1 .5 .9 1 .4 1.5-.3 1.7-1 1.7-1.5 1.5-1.5 1-2 .8-2 .3 M267 305.6l0-15 .5 .4 .6 1.8 .4 2.5 .1 3-.1 2.7-.5 2.8-.5 1.4-.5 .4 M371 245l-1.5 .1-1-.3-1-.9-.5-1 0-1.6 .4-1 .6-.7 1-.6 1.5-.1 1 .3 .7 .6 .7 1 .2 1.5-.3 1-.7 1-1.1 .7 M311 296.9l-1.5-.1-1-.3-1-.6-.5-.6-.3-1 0-1 .8-1.8 1-1.1 1-.8 2.5-1.2 2.5-.2 1 .1 1 .5 1 1 .3 1-.2 1.5-.6 1.2-1.2 1.3-1.3 1-1.5 .6-2 .5 M267 304.4l0-12.6 .5 .4 .5 1.6 .4 4.5-.4 4.2-.5 1.5-.5 .4 M371 244l-.5 .1-1 0-1-.5-.5-.7-.2-.6 .1-1 .6-.9 .5-.4 .5-.1 1 0 .9 .4 .6 .9 .2 .6-.2 1-.5 .8-.5 .4 M313 295.4l-2 .4-1-.1-.9-.4-.9-1-.1-1.5 .8-1.5 1.9-1.5 2.2-.7 2 .1 1 .6 .4 .5 .3 1-.2 1-.5 1-1 1-2 1.1 M267 303.1l0-10 .5 .5 .3 1.2 .3 3.5-.1 2-.3 1.5-.2 .8-.5 .5 M370.5 243.1l-.5 .1-.5-.1-.5-.5-.2-.8 .2-.5 .5-.4 .5-.1 .5 .1 .5 .5 .1 .9-.6 .8 M312 294.9l-1.5-.1-1-.7-.3-.8 .4-1.5 1-1 1.9-.9 1.5-.1 1 .4 .5 .6 .2 .5-.2 1-.2 .5-1.3 1.3-2 .8 M267 302l0-7.8 .5 .7 .3 3.4-.3 3-.5 .7" fill="none" stroke="#000" stroke-width="0.85" stroke-linejoin="round"/>
<path d="M350.5 336.2 Q352.0 331.6 356.5 331.6 L385.0 331.6 Q389.5 331.6 391.0 336.2 Z" fill="#0a0a0a"/>
<rect x="267.0" y="199.3" width="163.5" height="136.9" fill="none" stroke="#000" stroke-width="2.4"/>
<path d="M348.1 199.3 V336.2 M267.0 269.3 H430.5" stroke="#000" stroke-width="1.9" fill="none"/>
<path d="M267.0 336.2 v5.2 M267.0 337.4 h-5.2 M279.3 336.2 v3.3 M267.0 327.1 h-3.3 M286.5 336.2 v3.3 M267.0 321.1 h-3.3 M291.6 336.2 v3.3 M267.0 316.8 h-3.3 M295.6 336.2 v3.3 M267.0 313.5 h-3.3 M298.8 336.2 v3.3 M267.0 310.8 h-3.3 M301.5 336.2 v3.3 M267.0 308.5 h-3.3 M303.9 336.2 v3.3 M267.0 306.5 h-3.3 M306.0 336.2 v3.3 M267.0 304.7 h-3.3 M307.9 336.2 v5.2 M267.0 303.2 h-5.2 M320.2 336.2 v3.3 M267.0 292.9 h-3.3 M327.4 336.2 v3.3 M267.0 286.8 h-3.3 M332.5 336.2 v3.3 M267.0 282.6 h-3.3 M336.4 336.2 v3.3 M267.0 279.3 h-3.3 M339.7 336.2 v3.3 M267.0 276.5 h-3.3 M342.4 336.2 v3.3 M267.0 274.3 h-3.3 M344.8 336.2 v3.3 M267.0 272.3 h-3.3 M346.9 336.2 v3.3 M267.0 270.5 h-3.3 M348.8 336.2 v5.2 M267.0 268.9 h-5.2 M361.1 336.2 v3.3 M267.0 258.6 h-3.3 M368.3 336.2 v3.3 M267.0 252.6 h-3.3 M373.4 336.2 v3.3 M267.0 248.3 h-3.3 M377.3 336.2 v3.3 M267.0 245.0 h-3.3 M380.6 336.2 v3.3 M267.0 242.3 h-3.3 M383.3 336.2 v3.3 M267.0 240.0 h-3.3 M385.7 336.2 v3.3 M267.0 238.0 h-3.3 M387.8 336.2 v3.3 M267.0 236.3 h-3.3 M389.6 336.2 v5.2 M267.0 234.7 h-5.2 M401.9 336.2 v3.3 M267.0 224.4 h-3.3 M409.1 336.2 v3.3 M267.0 218.4 h-3.3 M414.2 336.2 v3.3 M267.0 214.1 h-3.3 M418.2 336.2 v3.3 M267.0 210.8 h-3.3 M421.4 336.2 v3.3 M267.0 208.1 h-3.3 M424.2 336.2 v3.3 M267.0 205.8 h-3.3 M426.5 336.2 v3.3 M267.0 203.8 h-3.3 M428.6 336.2 v3.3 M267.0 202.1 h-3.3 M430.5 336.2 v5.2 M267.0 200.5 h-5.2" stroke="#000" stroke-width="1.1" fill="none"/>
<text class="tk" x="266.2" y="349.1" text-anchor="middle">0.1</text>
<text class="tk" x="258.2" y="340.5" text-anchor="end">0.1</text>
<text class="tk" x="307.1" y="349.1" text-anchor="middle">1</text>
<text class="tk" x="258.2" y="306.3" text-anchor="end">1</text>
<text class="tk" x="347.9" y="349.1" text-anchor="middle">10</text>
<text class="tk" x="258.2" y="272.1" text-anchor="end">10</text>
<text class="tk" x="387.6" y="349.1" text-anchor="middle">100</text>
<text class="tk" x="258.2" y="237.8" text-anchor="end">100</text>
<text class="tk" x="428.0" y="349.1" text-anchor="middle">1000</text>
<text class="tk" x="258.2" y="203.6" text-anchor="end">1000</text>
<text class="qn" x="74" y="37">6.91</text>
<text class="qn" x="181" y="37">23.8</text>
<text class="qn" x="74" y="155">43.6</text>
<text class="qn" x="189.8" y="155.5">25.6</text>
<text class="qn" x="284.3" y="37.5">3.95</text>
<text class="qn" x="400.5" y="38.7">21.1</text>
<text class="qn" x="279.8" y="155.5">56.1</text>
<text class="qn" x="393" y="158.7">18.8</text>
<text class="qn" x="79.3" y="212">2.81</text>
<text class="qn" x="182.3" y="212.5">7.99</text>
<text class="qn" x="63.5" y="331.2">76</text>
<text class="qn" x="179.3" y="331.2">13.2</text>
<text class="qn" x="280.3" y="212.5">4.31</text>
<text class="qn" x="393" y="212.5">13.5</text>
<text class="qn" x="269.3" y="331.2">66.7</text>
<text class="qn" x="392.3" y="335">15.5</text>
<path d="M52.5 424.8 H234.5 V559.5" fill="none" stroke="#666" stroke-width="1"/>
<path d="M52.5 424.8 V559.5 H234.5" fill="none" stroke="#000" stroke-width="1.2"/>
<path d="M249.5 425.8 H431.7 V560.4" fill="none" stroke="#666" stroke-width="1"/>
<path d="M249.5 425.8 V560.4 H431.7" fill="none" stroke="#000" stroke-width="1.5"/>
<path d="M48.5 559.5 H52.5 M249.5 560.4 H253 M48.5 537.0 H52.5 M249.5 538.0 H253 M48.5 514.5 H52.5 M249.5 515.5 H253 M48.5 492.0 H52.5 M249.5 493.1 H253 M48.5 469.5 H52.5 M249.5 470.7 H253 M48.5 447.0 H52.5 M249.5 448.2 H253 M48.5 424.5 H52.5 M249.5 425.8 H253 M52.5 559.5 v3 M113.0 559.5 v3 M174.0 559.5 v3 M234.5 559.5 v3 M249.5 560.4 v3 M310.0 560.4 v3 M371.0 560.4 v3 M431.7 560.4 v3" stroke="#000" stroke-width="1" fill="none"/>
<text class="yl" x="48" y="564.7" text-anchor="end">0</text>
<text class="yl" x="48" y="542.2" text-anchor="end">10</text>
<text class="yl" x="48" y="519.7" text-anchor="end">20</text>
<text class="yl" x="48" y="497.2" text-anchor="end">30</text>
<text class="yl" x="48" y="474.7" text-anchor="end">40</text>
<text class="yl" x="48" y="452.2" text-anchor="end">50</text>
<text class="yl" x="48" y="429.7" text-anchor="end">60</text>
<rect x="62.00" y="452.62" width="13.75" height="106.88" fill="url(#chk)" stroke="#000" stroke-width="1.2"/>
<path d="M68.88 452.62 V443.85 M65.38 443.85 h7" stroke="#000" stroke-width="1.2" fill="none"/>
<rect x="75.75" y="483.68" width="12.75" height="75.82" fill="url(#hat)" stroke="#000" stroke-width="1.2"/>
<path d="M82.12 483.68 V480.52 M78.62 480.52 h7" stroke="#000" stroke-width="1.2" fill="none"/>
<rect x="88.50" y="455.55" width="14.00" height="103.95" fill="#000" stroke="#000" stroke-width="1.2"/>
<path d="M95.50 455.55 V451.05 M92.00 451.05 h7" stroke="#000" stroke-width="1.2" fill="none"/>
<rect x="122.50" y="505.05" width="14.25" height="54.45" fill="url(#chk)" stroke="#000" stroke-width="1.2"/>
<path d="M129.62 505.05 V499.43 M126.12 499.43 h7" stroke="#000" stroke-width="1.2" fill="none"/>
<rect x="136.75" y="534.52" width="12.75" height="24.98" fill="url(#hat)" stroke="#000" stroke-width="1.2"/>
<path d="M143.12 534.52 V533.85 M139.62 533.85 h7" stroke="#000" stroke-width="1.2" fill="none"/>
<rect x="149.50" y="512.48" width="14.25" height="47.02" fill="#000" stroke="#000" stroke-width="1.2"/>
<path d="M156.62 512.48 V511.35 M153.12 511.35 h7" stroke="#000" stroke-width="1.2" fill="none"/>
<rect x="185.50" y="445.43" width="12.25" height="114.07" fill="url(#chk)" stroke="#000" stroke-width="1.2"/>
<path d="M191.62 445.43 V440.93 M188.12 440.93 h7" stroke="#000" stroke-width="1.2" fill="none"/>
<rect x="197.75" y="487.95" width="12.25" height="71.55" fill="url(#hat)" stroke="#000" stroke-width="1.2"/>
<path d="M203.88 487.95 V485.02 M200.38 485.02 h7" stroke="#000" stroke-width="1.2" fill="none"/>
<rect x="210.00" y="460.73" width="14.50" height="98.77" fill="#000" stroke="#000" stroke-width="1.2"/>
<path d="M217.25 460.73 V457.57 M213.75 457.57 h7" stroke="#000" stroke-width="1.2" fill="none"/>
<rect x="257.50" y="464.55" width="11.25" height="95.85" fill="url(#chk)" stroke="#000" stroke-width="1.2"/>
<path d="M263.12 464.55 V455.10 M259.62 455.10 h7" stroke="#000" stroke-width="1.2" fill="none"/>
<rect x="268.75" y="496.95" width="10.00" height="63.45" fill="url(#hat)" stroke="#000" stroke-width="1.2"/>
<path d="M273.75 496.95 V485.48 M270.25 485.48 h7" stroke="#000" stroke-width="1.2" fill="none"/>
<rect x="278.75" y="488.85" width="10.75" height="71.55" fill="#000" stroke="#000" stroke-width="1.2"/>
<path d="M284.12 488.85 V485.02 M280.62 485.02 h7" stroke="#000" stroke-width="1.2" fill="none"/>
<rect x="289.50" y="480.07" width="11.75" height="80.32" fill="#fff" stroke="#000" stroke-width="1.2"/>
<path d="M295.38 480.07 V472.43 M291.88 472.43 h7" stroke="#000" stroke-width="1.2" fill="none"/>
<rect x="317.00" y="507.52" width="11.75" height="52.88" fill="url(#chk)" stroke="#000" stroke-width="1.2"/>
<path d="M322.88 507.52 V501.90 M319.38 501.90 h7" stroke="#000" stroke-width="1.2" fill="none"/>
<rect x="328.75" y="534.52" width="10.75" height="25.88" fill="url(#hat)" stroke="#000" stroke-width="1.2"/>
<path d="M334.12 534.52 V528.00 M330.62 528.00 h7" stroke="#000" stroke-width="1.2" fill="none"/>
<rect x="339.50" y="528.00" width="11.25" height="32.40" fill="#000" stroke="#000" stroke-width="1.2"/>
<path d="M345.12 528.00 V524.40 M341.62 524.40 h7" stroke="#000" stroke-width="1.2" fill="none"/>
<rect x="350.75" y="526.65" width="11.75" height="33.75" fill="#fff" stroke="#000" stroke-width="1.2"/>
<path d="M356.62 526.65 V522.60 M353.12 522.60 h7" stroke="#000" stroke-width="1.2" fill="none"/>
<rect x="379.00" y="441.60" width="11.80" height="118.80" fill="url(#chk)" stroke="#000" stroke-width="1.2"/>
<path d="M384.90 441.60 V438.45 M381.40 438.45 h7" stroke="#000" stroke-width="1.2" fill="none"/>
<rect x="390.80" y="476.93" width="10.20" height="83.47" fill="url(#hat)" stroke="#000" stroke-width="1.2"/>
<path d="M395.90 476.93 V465.00 M392.40 465.00 h7" stroke="#000" stroke-width="1.2" fill="none"/>
<rect x="401.00" y="458.48" width="10.70" height="101.92" fill="#000" stroke="#000" stroke-width="1.2"/>
<path d="M406.35 458.48 V452.40 M402.85 452.40 h7" stroke="#000" stroke-width="1.2" fill="none"/>
<rect x="411.70" y="465.23" width="12.00" height="95.17" fill="#fff" stroke="#000" stroke-width="1.2"/>
<path d="M417.70 465.23 V460.50 M414.20 460.50 h7" stroke="#000" stroke-width="1.2" fill="none"/>
<text class="yl" style="font-size:15.7px" transform="translate(13.6,543.5) rotate(-90)">Percentage (%)</text>
<text class="day" x="120.3" y="449.5">Day 15</text>
<text class="day" x="314" y="452.7">Day 20</text>
<text class="st" x="62" y="448.5">**</text>
<text class="st" x="123" y="504.5">**</text>
<text class="st" x="184.5" y="446">**</text>
<text class="st" x="320.5" y="507">*</text>
<text class="st" x="382.8" y="444.5">*</text>
<text class="xl" x="54.5" y="581.3">NK1.1<tspan dy="-4" font-size="10">+</tspan></text>
<text class="xl" x="53.5" y="600">/spleen</text>
<text class="xl" x="115.3" y="581.3">Ly49D<tspan dy="-4" font-size="10">+</tspan></text>
<text class="xl" x="115" y="600">/spleen</text>
<text class="xl" x="177.5" y="580.5">Ly49D<tspan dy="-4" font-size="10">+</tspan></text>
<text class="xl" x="178.5" y="599">/ NK1.1<tspan dy="-4" font-size="10">+</tspan></text>
<text class="xl" x="251" y="582">NK1.1<tspan dy="-4" font-size="10">+</tspan></text>
<text class="xl" x="252" y="600">/spleen</text>
<text class="xl" x="313" y="582">Ly49D<tspan dy="-4" font-size="10">+</tspan></text>
<text class="xl" x="313" y="600">/spleen</text>
<text class="xl" x="376" y="580.5">Ly49D<tspan dy="-4" font-size="10">+</tspan></text>
<text class="xl" x="375" y="599">/ NK1.1<tspan dy="-4" font-size="10">+</tspan></text>
<!-- legend -->
<rect x="441" y="455.8" width="10" height="7.2" fill="#000" stroke="#000" stroke-width="1.6"/>
<rect x="447" y="456.6" width="3.2" height="2.8" fill="#fff"/><rect x="443" y="460" width="3.2" height="2.4" fill="#fff"/>
<rect x="441" y="481" width="10" height="7.2" fill="#fff" stroke="#000" stroke-width="1.6"/>
<path d="M441.5 488 L450.5 481.2" stroke="#000" stroke-width="3"/>
<rect x="441" y="507.4" width="10" height="7.2" fill="#000" stroke="#000" stroke-width="1.6"/>
<rect x="441" y="533.2" width="10" height="7" fill="#fff" stroke="#000" stroke-width="1.5"/>
<text class="lg" x="463" y="463.5">MHC<tspan dy="-4" font-size="8.5">+</tspan><tspan dy="4">B7</tspan><tspan dy="-4" font-size="8.5">+</tspan></text>
<text class="lg" x="463" y="489.5">MHC<tspan dy="-4" font-size="8.5">+</tspan><tspan dy="4">B7</tspan><tspan dy="-4" font-size="8.5">-</tspan></text>
<text class="lg" x="463" y="515">MHC<tspan dy="-4" font-size="8.5">-</tspan><tspan dy="4">B7</tspan><tspan dy="-4" font-size="8.5">+</tspan></text>
<text class="lg" x="463" y="541">PBS</text>
</svg>
</body></html>
